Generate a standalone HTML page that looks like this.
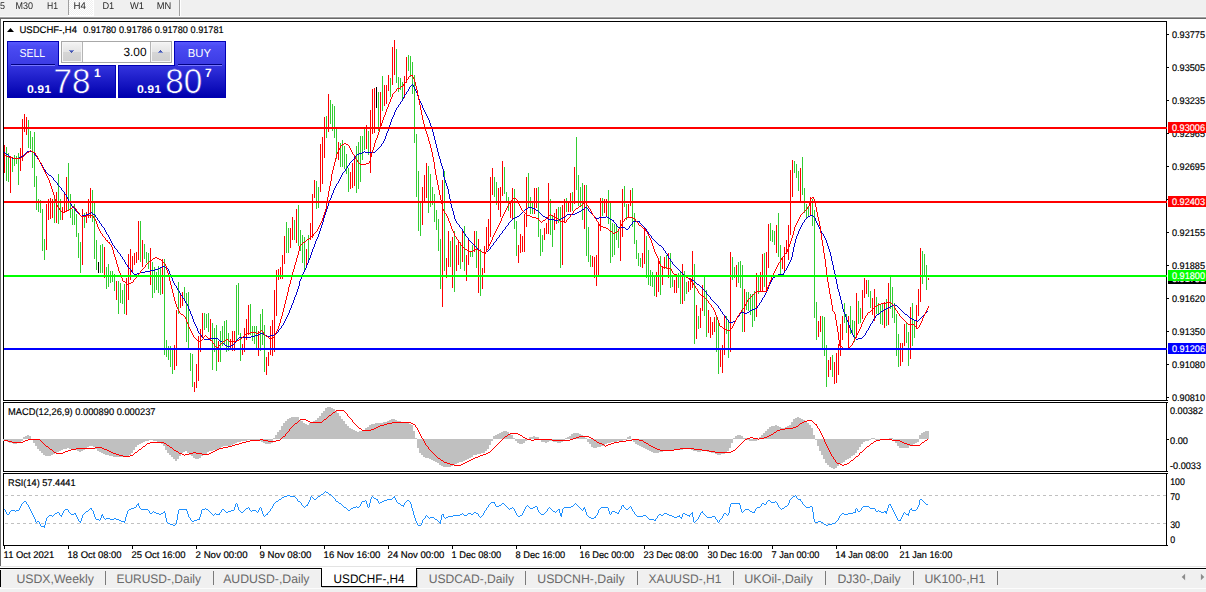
<!DOCTYPE html>
<html><head><meta charset="utf-8"><title>USDCHF-,H4</title>
<style>
html,body{margin:0;padding:0;background:#fff;width:1206px;height:592px;overflow:hidden}
svg{display:block;position:absolute;left:0;top:0}
text{font-family:"Liberation Sans",sans-serif;text-rendering:geometricPrecision}
.s{font-size:9.7px;fill:#000;stroke:#000;stroke-width:.18px}
.s.w{stroke:#fff}
.tb{font-size:9.7px;fill:#2a2a2a}
.tab{font-size:12.4px;fill:#6a6a6a}
.w{fill:#fff}
</style></head><body>
<svg width="1206" height="592" viewBox="0 0 1206 592">
<defs>
<linearGradient id="gb" x1="0" y1="41" x2="0" y2="98" gradientUnits="userSpaceOnUse">
<stop offset="0.0175" stop-color="#5858ff"/><stop offset="0.088" stop-color="#4b4bf3"/><stop offset="0.40" stop-color="#3c3ce5"/><stop offset="0.44" stop-color="#3333dd"/><stop offset="0.98" stop-color="#0000ae"/>
</linearGradient>
<linearGradient id="gg" x1="0" y1="0" x2="0" y2="1">
<stop offset="0" stop-color="#f4f4f4"/><stop offset="0.5" stop-color="#e4e4e4"/><stop offset="0.5" stop-color="#d6d6d6"/><stop offset="1" stop-color="#cfcfcf"/>
</linearGradient>
<filter id="nf" x="0" y="0" width="100%" height="100%" filterUnits="userSpaceOnUse"><feOffset dx="0" dy="0"/></filter>
<pattern id="dith" width="2" height="2" patternUnits="userSpaceOnUse"><rect width="2" height="2" fill="#f0f0f0"/><rect width="1" height="1" fill="#fff"/><rect x="1" y="1" width="1" height="1" fill="#fff"/></pattern>
</defs>
<rect width="1206" height="592" fill="#fff"/>

<rect x="0" y="0" width="1206" height="17" fill="#f0f0f0"/>
<rect x="69" y="0" width="24" height="15" fill="url(#dith)"/><rect x="93" y="0" width="1" height="16" fill="#fff"/><rect x="68" y="15" width="26" height="1" fill="#fff"/>
<rect x="68" y="0" width="1" height="15" fill="#a0a0a0"/>
<rect x="179" y="0" width="1" height="17" fill="#a0a0a0"/><rect x="180" y="0" width="1" height="17" fill="#fff"/>
<rect x="0" y="16" width="1206" height="1" fill="#f9f9f9"/><rect x="0" y="17" width="1206" height="1" fill="#a0a0a0"/><rect x="0" y="18" width="1206" height="1" fill="#696969"/>
<g filter="url(#nf)">
<text class="tb" x="0" y="9" textLength="5.0" lengthAdjust="spacingAndGlyphs">5</text>
<text class="tb" x="15.5" y="9" textLength="17.5" lengthAdjust="spacingAndGlyphs">M30</text>
<text class="tb" x="47" y="9" textLength="11.0" lengthAdjust="spacingAndGlyphs">H1</text>
<text class="tb" x="73.4" y="9" textLength="12.4" lengthAdjust="spacingAndGlyphs">H4</text>
<text class="tb" x="102.4" y="9" textLength="11.8" lengthAdjust="spacingAndGlyphs">D1</text>
<text class="tb" x="130" y="9" textLength="14.0" lengthAdjust="spacingAndGlyphs">W1</text>
<text class="tb" x="156.7" y="9" textLength="14.5" lengthAdjust="spacingAndGlyphs">MN</text>
</g>
<rect x="0" y="19" width="1" height="547" fill="#696969"/>
<rect x="0" y="566" width="1206" height="1" fill="#e3e3e3"/>
<rect x="0" y="569" width="1206" height="19" fill="#f0f0f0"/>
<rect x="0" y="588" width="1206" height="1" fill="#fcfcfc"/>
<rect x="0" y="589" width="1206" height="3" fill="#f0f0f0"/>
<rect x="0" y="568" width="1206" height="1" fill="#000"/>
<rect x="0" y="568" width="1" height="19" fill="#000"/>
<rect x="0" y="569" width="1206" height="1" fill="#f8f8f8"/>
<rect x="322" y="587" width="96" height="1" fill="#c8c8c8"/><rect x="417" y="570" width="1" height="18" fill="#c8c8c8"/>
<rect x="321" y="568" width="96" height="19" fill="#000"/><rect x="322" y="567" width="94" height="19" fill="#fff"/>
<text class="tab" x="16.4" y="583" textLength="77.6" lengthAdjust="spacingAndGlyphs">USDX,Weekly</text>
<text class="tab" x="116.4" y="583" textLength="84.6" lengthAdjust="spacingAndGlyphs">EURUSD-,Daily</text>
<text class="tab" x="223.2" y="583" textLength="86.3" lengthAdjust="spacingAndGlyphs">AUDUSD-,Daily</text>
<text class="tab" style="fill:#000" x="333.6" y="583" textLength="71.0" lengthAdjust="spacingAndGlyphs">USDCHF-,H4</text>
<text class="tab" x="428.7" y="583" textLength="85.3" lengthAdjust="spacingAndGlyphs">USDCAD-,Daily</text>
<text class="tab" x="537.3" y="583" textLength="87.3" lengthAdjust="spacingAndGlyphs">USDCNH-,Daily</text>
<text class="tab" x="648.6" y="583" textLength="72.8" lengthAdjust="spacingAndGlyphs">XAUUSD-,H1</text>
<text class="tab" x="744.3" y="583" textLength="68.4" lengthAdjust="spacingAndGlyphs">UKOil-,Daily</text>
<text class="tab" x="837.4" y="583" textLength="63.3" lengthAdjust="spacingAndGlyphs">DJ30-,Daily</text>
<text class="tab" x="924.4" y="583" textLength="60.9" lengthAdjust="spacingAndGlyphs">UK100-,H1</text>
<rect x="105" y="571" width="1" height="14" fill="#7a7a7a"/>
<rect x="213" y="571" width="1" height="14" fill="#7a7a7a"/>
<rect x="525" y="571" width="1" height="14" fill="#7a7a7a"/>
<rect x="637" y="571" width="1" height="14" fill="#7a7a7a"/>
<rect x="733" y="571" width="1" height="14" fill="#7a7a7a"/>
<rect x="825" y="571" width="1" height="14" fill="#7a7a7a"/>
<rect x="913" y="571" width="1" height="14" fill="#7a7a7a"/>
<rect x="997" y="571" width="1" height="14" fill="#7a7a7a"/>
<path d="M1181.7 577l3.4-3.2v6.4z" fill="#8c8c8c"/><path d="M1204.3 577l-3.4-3.2v6.4z" fill="#8c8c8c"/>
<g fill="#000" shape-rendering="crispEdges">
<rect x="3" y="21" width="1165" height="1"/><rect x="3" y="400" width="1165" height="1"/>
<rect x="3" y="21" width="1" height="380"/><rect x="1166" y="21" width="1" height="380"/>
<rect x="3" y="402" width="1165" height="1"/><rect x="3" y="471" width="1165" height="1"/>
<rect x="3" y="402" width="1" height="70"/><rect x="1166" y="402" width="1" height="70"/>
<rect x="3" y="473" width="1165" height="1"/><rect x="3" y="545" width="1165" height="1"/>
<rect x="3" y="473" width="1" height="73"/><rect x="1166" y="473" width="1" height="73"/>
<rect x="1167" y="21" width="1" height="1" fill="#fff"/>
<rect x="1167" y="34" width="2" height="1"/>
<rect x="1167" y="67" width="2" height="1"/>
<rect x="1167" y="100" width="2" height="1"/>
<rect x="1167" y="133" width="2" height="1"/>
<rect x="1167" y="166" width="2" height="1"/>
<rect x="1167" y="199" width="2" height="1"/>
<rect x="1167" y="232" width="2" height="1"/>
<rect x="1167" y="265" width="2" height="1"/>
<rect x="1167" y="298" width="2" height="1"/>
<rect x="1167" y="331" width="2" height="1"/>
<rect x="1167" y="364" width="2" height="1"/>
<rect x="1167" y="397" width="2" height="1"/>
<rect x="1167" y="439" width="2" height="1"/>
<rect x="4" y="546" width="1" height="3"/>
<rect x="68" y="546" width="1" height="3"/>
<rect x="132" y="546" width="1" height="3"/>
<rect x="196" y="546" width="1" height="3"/>
<rect x="260" y="546" width="1" height="3"/>
<rect x="324" y="546" width="1" height="3"/>
<rect x="388" y="546" width="1" height="3"/>
<rect x="452" y="546" width="1" height="3"/>
<rect x="516" y="546" width="1" height="3"/>
<rect x="580" y="546" width="1" height="3"/>
<rect x="644" y="546" width="1" height="3"/>
<rect x="708" y="546" width="1" height="3"/>
<rect x="772" y="546" width="1" height="3"/>
<rect x="836" y="546" width="1" height="3"/>
<rect x="900" y="546" width="1" height="3"/>
</g>
<text class="s" x="1172" y="38" textLength="33" lengthAdjust="spacingAndGlyphs">0.93775</text>
<text class="s" x="1172" y="71" textLength="33" lengthAdjust="spacingAndGlyphs">0.93505</text>
<text class="s" x="1172" y="104" textLength="33" lengthAdjust="spacingAndGlyphs">0.93235</text>
<text class="s" x="1172" y="137" textLength="33" lengthAdjust="spacingAndGlyphs">0.92965</text>
<text class="s" x="1172" y="170" textLength="33" lengthAdjust="spacingAndGlyphs">0.92695</text>
<text class="s" x="1172" y="203" textLength="33" lengthAdjust="spacingAndGlyphs">0.92425</text>
<text class="s" x="1172" y="236" textLength="33" lengthAdjust="spacingAndGlyphs">0.92155</text>
<text class="s" x="1172" y="269" textLength="33" lengthAdjust="spacingAndGlyphs">0.91885</text>
<text class="s" x="1172" y="302" textLength="33" lengthAdjust="spacingAndGlyphs">0.91620</text>
<text class="s" x="1172" y="335" textLength="33" lengthAdjust="spacingAndGlyphs">0.91350</text>
<text class="s" x="1172" y="368" textLength="33" lengthAdjust="spacingAndGlyphs">0.91080</text>
<text class="s" x="1172" y="401" textLength="33" lengthAdjust="spacingAndGlyphs">0.90810</text>
<text class="s" x="1170" y="413.6" textLength="33" lengthAdjust="spacingAndGlyphs">0.00382</text>
<text class="s" x="1170" y="443.6" textLength="18" lengthAdjust="spacingAndGlyphs">0.00</text>
<text class="s" x="1170" y="468.6" textLength="31" lengthAdjust="spacingAndGlyphs">-0.0033</text>
<text class="s" x="1170.2" y="484.6" textLength="14.6" lengthAdjust="spacingAndGlyphs">100</text>
<text class="s" x="1170.2" y="499.6" textLength="9.8" lengthAdjust="spacingAndGlyphs">70</text>
<text class="s" x="1170.2" y="527.6" textLength="9.8" lengthAdjust="spacingAndGlyphs">30</text>
<text class="s" x="1170.2" y="542.6" textLength="4.9" lengthAdjust="spacingAndGlyphs">0</text>
<text class="s" x="3.6" y="558.3" textLength="50.6" lengthAdjust="spacingAndGlyphs">11 Oct 2021</text>
<text class="s" x="67.6" y="558.3" textLength="54.0" lengthAdjust="spacingAndGlyphs">18 Oct 08:00</text>
<text class="s" x="131.6" y="558.3" textLength="54.0" lengthAdjust="spacingAndGlyphs">25 Oct 16:00</text>
<text class="s" x="195.6" y="558.3" textLength="52.0" lengthAdjust="spacingAndGlyphs">2 Nov 00:00</text>
<text class="s" x="259.6" y="558.3" textLength="51.8" lengthAdjust="spacingAndGlyphs">9 Nov 08:00</text>
<text class="s" x="323.6" y="558.3" textLength="56.8" lengthAdjust="spacingAndGlyphs">16 Nov 16:00</text>
<text class="s" x="387.6" y="558.3" textLength="56.8" lengthAdjust="spacingAndGlyphs">24 Nov 00:00</text>
<text class="s" x="451.6" y="558.3" textLength="49.6" lengthAdjust="spacingAndGlyphs">1 Dec 08:00</text>
<text class="s" x="515.6" y="558.3" textLength="49.6" lengthAdjust="spacingAndGlyphs">8 Dec 16:00</text>
<text class="s" x="579.6" y="558.3" textLength="54.6" lengthAdjust="spacingAndGlyphs">16 Dec 00:00</text>
<text class="s" x="643.6" y="558.3" textLength="54.6" lengthAdjust="spacingAndGlyphs">23 Dec 08:00</text>
<text class="s" x="707.6" y="558.3" textLength="54.6" lengthAdjust="spacingAndGlyphs">30 Dec 16:00</text>
<text class="s" x="771.6" y="558.3" textLength="47.8" lengthAdjust="spacingAndGlyphs">7 Jan 00:00</text>
<text class="s" x="835.6" y="558.3" textLength="52.6" lengthAdjust="spacingAndGlyphs">14 Jan 08:00</text>
<text class="s" x="899.6" y="558.3" textLength="52.6" lengthAdjust="spacingAndGlyphs">21 Jan 16:00</text>
<g shape-rendering="crispEdges" fill="none">
<path d="M5 495.5H1166M5 523.5H1166" stroke="#c0c0c0" stroke-width="1" stroke-dasharray="3 3" stroke-dashoffset="0"/>
<path d="M4.5 509V510M5.5 510V512M6.5 512V514M7.5 514V515M8.5 514V515M9.5 512V514M10.5 511V512M11.5 510V511M12.5 510V511M13.5 510V511M14.5 510V511M15.5 511V512M16.5 510V511M17.5 510V511M18.5 510V511M19.5 508V510M20.5 506V508M21.5 504V506M22.5 503V504M23.5 502V503M24.5 501V502M25.5 501V502M26.5 502V504M27.5 504V505M28.5 505V507M29.5 507V509M30.5 509V511M31.5 511V513M32.5 513V515M33.5 515V517M34.5 517V519M35.5 519V522M36.5 522V523M37.5 521V522M38.5 521V522M39.5 522V524M40.5 524V526M41.5 526V527M42.5 526V527M43.5 526V527M44.5 525V528M45.5 521V525M46.5 518V521M47.5 517V518M48.5 516V517M49.5 515V516M50.5 515V516M51.5 515V516M52.5 516V517M53.5 515V516M54.5 514V515M55.5 513V514M56.5 513V514M57.5 512V513M58.5 512V513M59.5 513V515M60.5 515V516M61.5 515V517M62.5 513V515M63.5 511V513M64.5 510V511M65.5 509V510M66.5 509V510M67.5 509V510M68.5 510V512M69.5 512V513M70.5 513V514M71.5 514V515M72.5 514V515M73.5 514V515M74.5 513V514M75.5 513V515M76.5 515V517M77.5 517V519M78.5 519V521M79.5 521V522M80.5 521V523M81.5 518V521M82.5 515V518M83.5 514V515M84.5 513V514M85.5 512V513M86.5 511V512M87.5 511V512M88.5 510V511M89.5 509V510M90.5 508V509M91.5 508V510M92.5 510V511M93.5 511V514M94.5 514V517M95.5 517V519M96.5 519V520M97.5 519V520M98.5 519V520M99.5 520V521M100.5 518V520M101.5 515V518M102.5 514V516M103.5 516V518M104.5 518V519M105.5 519V520M106.5 518V519M107.5 518V519M108.5 518V519M109.5 518V519M110.5 519V520M111.5 519V520M112.5 519V520M113.5 519V520M114.5 518V519M115.5 518V519M116.5 519V520M117.5 519V520M118.5 519V520M119.5 520V521M120.5 520V521M121.5 521V522M122.5 521V522M123.5 521V522M124.5 521V523M125.5 517V521M126.5 514V517M127.5 511V514M128.5 510V511M129.5 509V510M130.5 509V510M131.5 508V509M132.5 508V509M133.5 508V509M134.5 507V508M135.5 507V508M136.5 505V507M137.5 504V505M138.5 503V506M139.5 506V508M140.5 508V509M141.5 509V510M142.5 509V510M143.5 509V510M144.5 509V510M145.5 509V510M146.5 509V510M147.5 509V510M148.5 510V511M149.5 511V513M150.5 513V514M151.5 513V514M152.5 512V513M153.5 511V512M154.5 512V513M155.5 512V513M156.5 513V514M157.5 513V514M158.5 513V514M159.5 514V515M160.5 514V515M161.5 513V514M162.5 513V514M163.5 512V513M164.5 511V513M165.5 513V518M166.5 518V522M167.5 522V523M168.5 523V524M169.5 523V524M170.5 524V525M171.5 524V525M172.5 524V525M173.5 525V526M174.5 525V526M175.5 524V525M176.5 520V524M177.5 514V520M178.5 510V514M179.5 509V510M180.5 509V510M181.5 509V510M182.5 509V510M183.5 509V510M184.5 509V510M185.5 509V510M186.5 509V511M187.5 511V514M188.5 514V517M189.5 517V518M190.5 518V520M191.5 520V521M192.5 521V522M193.5 521V522M194.5 520V521M195.5 520V521M196.5 520V521M197.5 519V520M198.5 519V520M199.5 517V520M200.5 514V517M201.5 510V514M202.5 509V510M203.5 509V510M204.5 509V510M205.5 508V509M206.5 509V510M207.5 509V510M208.5 510V511M209.5 511V512M210.5 512V513M211.5 513V514M212.5 514V515M213.5 515V516M214.5 514V515M215.5 513V514M216.5 514V515M217.5 514V515M218.5 514V515M219.5 513V515M220.5 512V513M221.5 510V512M222.5 509V510M223.5 509V510M224.5 510V511M225.5 511V512M226.5 512V513M227.5 512V513M228.5 511V512M229.5 511V512M230.5 511V512M231.5 510V511M232.5 510V511M233.5 510V511M234.5 507V510M235.5 504V507M236.5 503V504M237.5 504V507M238.5 507V510M239.5 510V511M240.5 511V512M241.5 512V513M242.5 512V513M243.5 511V512M244.5 510V511M245.5 509V510M246.5 508V509M247.5 508V509M248.5 507V508M249.5 508V510M250.5 510V511M251.5 511V512M252.5 510V511M253.5 510V511M254.5 510V511M255.5 510V511M256.5 511V512M257.5 512V513M258.5 510V512M259.5 508V510M260.5 507V508M261.5 508V511M262.5 511V514M263.5 514V516M264.5 516V517M265.5 515V516M266.5 514V515M267.5 513V515M268.5 512V513M269.5 511V512M270.5 509V511M271.5 508V509M272.5 506V508M273.5 504V506M274.5 503V504M275.5 502V503M276.5 501V502M277.5 501V502M278.5 500V501M279.5 499V500M280.5 499V500M281.5 498V499M282.5 497V498M283.5 497V498M284.5 496V497M285.5 496V497M286.5 496V497M287.5 495V496M288.5 495V496M289.5 495V496M290.5 496V497M291.5 496V497M292.5 496V497M293.5 496V497M294.5 496V497M295.5 497V498M296.5 498V499M297.5 499V501M298.5 501V502M299.5 501V502M300.5 502V503M301.5 503V505M302.5 505V506M303.5 506V507M304.5 507V508M305.5 506V507M306.5 505V506M307.5 504V506M308.5 502V504M309.5 500V502M310.5 497V500M311.5 496V497M312.5 497V498M313.5 498V499M314.5 499V500M315.5 499V500M316.5 498V499M317.5 497V498M318.5 496V497M319.5 496V497M320.5 495V496M321.5 494V495M322.5 494V495M323.5 493V494M324.5 492V493M325.5 491V492M326.5 492V493M327.5 492V493M328.5 493V494M329.5 494V495M330.5 494V495M331.5 495V496M332.5 496V497M333.5 497V498M334.5 498V499M335.5 499V501M336.5 501V502M337.5 501V502M338.5 502V503M339.5 503V504M340.5 503V504M341.5 504V505M342.5 505V506M343.5 506V507M344.5 507V508M345.5 507V508M346.5 508V509M347.5 509V510M348.5 510V511M349.5 510V511M350.5 509V510M351.5 508V509M352.5 508V509M353.5 507V508M354.5 507V508M355.5 507V508M356.5 506V507M357.5 507V508M358.5 507V508M359.5 506V507M360.5 504V506M361.5 502V504M362.5 501V502M363.5 501V502M364.5 501V502M365.5 500V501M366.5 501V504M367.5 504V507M368.5 507V508M369.5 503V507M370.5 499V503M371.5 497V499M372.5 496V497M373.5 497V498M374.5 498V499M375.5 498V499M376.5 499V500M377.5 499V501M378.5 501V503M379.5 503V504M380.5 502V503M381.5 502V503M382.5 501V502M383.5 501V502M384.5 500V501M385.5 500V501M386.5 500V501M387.5 499V500M388.5 499V500M389.5 499V500M390.5 499V500M391.5 499V500M392.5 498V499M393.5 497V498M394.5 496V498M395.5 498V500M396.5 500V502M397.5 502V503M398.5 503V504M399.5 503V504M400.5 504V505M401.5 505V506M402.5 505V506M403.5 505V507M404.5 503V505M405.5 502V503M406.5 501V502M407.5 500V501M408.5 500V501M409.5 501V502M410.5 502V504M411.5 504V508M412.5 508V511M413.5 511V515M414.5 515V518M415.5 518V521M416.5 521V523M417.5 523V525M418.5 525V526M419.5 525V526M420.5 525V526M421.5 523V525M422.5 520V523M423.5 519V520M424.5 518V519M425.5 516V518M426.5 515V516M427.5 516V517M428.5 517V518M429.5 518V519M430.5 517V518M431.5 517V518M432.5 517V518M433.5 517V518M434.5 518V519M435.5 519V520M436.5 519V520M437.5 520V521M438.5 521V522M439.5 522V523M440.5 520V524M441.5 515V520M442.5 514V515M443.5 514V517M444.5 517V518M445.5 518V519M446.5 517V518M447.5 517V518M448.5 516V517M449.5 516V517M450.5 516V517M451.5 516V517M452.5 516V517M453.5 515V516M454.5 515V516M455.5 515V516M456.5 515V516M457.5 515V516M458.5 515V516M459.5 515V516M460.5 514V515M461.5 514V515M462.5 513V514M463.5 514V515M464.5 515V516M465.5 515V516M466.5 515V516M467.5 514V515M468.5 513V514M469.5 513V514M470.5 513V514M471.5 514V515M472.5 514V515M473.5 513V514M474.5 512V513M475.5 512V513M476.5 513V514M477.5 513V514M478.5 514V516M479.5 516V517M480.5 517V518M481.5 516V517M482.5 515V516M483.5 513V515M484.5 511V513M485.5 510V511M486.5 508V510M487.5 507V508M488.5 505V507M489.5 504V505M490.5 503V504M491.5 502V503M492.5 502V503M493.5 502V503M494.5 502V504M495.5 504V506M496.5 506V507M497.5 506V507M498.5 506V507M499.5 505V506M500.5 505V506M501.5 504V505M502.5 503V504M503.5 503V504M504.5 504V505M505.5 505V506M506.5 506V507M507.5 507V508M508.5 508V509M509.5 509V510M510.5 508V509M511.5 508V509M512.5 507V508M513.5 508V509M514.5 509V511M515.5 511V513M516.5 513V515M517.5 515V516M518.5 516V517M519.5 516V517M520.5 515V516M521.5 515V516M522.5 513V515M523.5 511V513M524.5 509V511M525.5 507V509M526.5 506V507M527.5 505V506M528.5 506V507M529.5 507V508M530.5 508V509M531.5 508V509M532.5 508V509M533.5 507V508M534.5 507V508M535.5 506V507M536.5 506V507M537.5 507V510M538.5 510V512M539.5 512V513M540.5 513V514M541.5 514V515M542.5 514V515M543.5 514V515M544.5 513V514M545.5 512V513M546.5 511V512M547.5 509V511M548.5 508V509M549.5 507V508M550.5 508V509M551.5 509V510M552.5 510V511M553.5 511V512M554.5 511V512M555.5 512V513M556.5 511V512M557.5 510V511M558.5 509V510M559.5 509V513M560.5 513V516M561.5 513V517M562.5 509V513M563.5 508V509M564.5 507V508M565.5 507V508M566.5 507V508M567.5 507V508M568.5 507V508M569.5 507V508M570.5 507V508M571.5 506V507M572.5 506V507M573.5 505V506M574.5 504V505M575.5 503V504M576.5 504V505M577.5 505V506M578.5 506V507M579.5 507V508M580.5 508V509M581.5 509V510M582.5 510V511M583.5 508V510M584.5 507V509M585.5 509V512M586.5 512V515M587.5 515V516M588.5 516V517M589.5 517V518M590.5 517V518M591.5 518V519M592.5 518V519M593.5 518V519M594.5 517V518M595.5 516V518M596.5 515V516M597.5 513V515M598.5 510V513M599.5 509V510M600.5 508V509M601.5 507V508M602.5 507V508M603.5 507V508M604.5 507V508M605.5 507V508M606.5 507V508M607.5 507V508M608.5 508V511M609.5 511V514M610.5 514V515M611.5 512V514M612.5 511V512M613.5 511V512M614.5 511V512M615.5 512V513M616.5 512V513M617.5 513V514M618.5 512V514M619.5 510V512M620.5 509V510M621.5 506V509M622.5 505V506M623.5 505V507M624.5 507V508M625.5 508V509M626.5 509V510M627.5 509V510M628.5 508V509M629.5 507V508M630.5 506V507M631.5 507V509M632.5 509V511M633.5 511V512M634.5 512V514M635.5 514V515M636.5 515V516M637.5 516V517M638.5 516V517M639.5 516V517M640.5 516V517M641.5 516V517M642.5 516V517M643.5 515V516M644.5 515V516M645.5 515V516M646.5 516V517M647.5 517V518M648.5 518V519M649.5 519V520M650.5 519V520M651.5 519V520M652.5 519V520M653.5 519V520M654.5 520V521M655.5 519V521M656.5 518V519M657.5 516V518M658.5 515V516M659.5 514V515M660.5 514V515M661.5 515V516M662.5 515V516M663.5 514V515M664.5 513V514M665.5 513V514M666.5 513V514M667.5 514V515M668.5 514V515M669.5 515V516M670.5 515V516M671.5 515V516M672.5 516V517M673.5 516V517M674.5 517V518M675.5 517V518M676.5 517V518M677.5 516V517M678.5 516V517M679.5 515V517M680.5 517V518M681.5 517V519M682.5 514V517M683.5 513V514M684.5 513V514M685.5 514V515M686.5 514V515M687.5 515V516M688.5 515V516M689.5 515V517M690.5 514V515M691.5 513V514M692.5 512V517M693.5 517V522M694.5 522V523M695.5 521V522M696.5 520V521M697.5 519V520M698.5 517V519M699.5 515V517M700.5 513V515M701.5 512V513M702.5 511V513M703.5 513V514M704.5 514V515M705.5 515V516M706.5 516V517M707.5 517V518M708.5 517V518M709.5 517V518M710.5 517V518M711.5 517V518M712.5 516V517M713.5 516V517M714.5 516V517M715.5 517V519M716.5 519V520M717.5 520V522M718.5 522V523M719.5 520V522M720.5 519V520M721.5 518V519M722.5 516V518M723.5 514V516M724.5 513V514M725.5 513V514M726.5 514V515M727.5 515V516M728.5 513V515M729.5 507V513M730.5 504V507M731.5 503V504M732.5 503V504M733.5 503V504M734.5 503V504M735.5 503V504M736.5 503V504M737.5 503V504M738.5 503V504M739.5 503V505M740.5 505V509M741.5 509V512M742.5 512V513M743.5 511V512M744.5 510V511M745.5 509V510M746.5 509V510M747.5 509V510M748.5 509V510M749.5 510V511M750.5 511V512M751.5 511V512M752.5 512V513M753.5 512V513M754.5 511V513M755.5 509V511M756.5 508V509M757.5 507V508M758.5 507V508M759.5 507V508M760.5 506V507M761.5 504V506M762.5 503V504M763.5 503V504M764.5 504V505M765.5 504V505M766.5 502V504M767.5 501V502M768.5 500V501M769.5 500V501M770.5 501V502M771.5 502V503M772.5 502V503M773.5 502V503M774.5 502V503M775.5 501V502M776.5 502V503M777.5 503V505M778.5 505V507M779.5 507V508M780.5 508V509M781.5 509V510M782.5 508V509M783.5 508V509M784.5 507V508M785.5 506V507M786.5 506V507M787.5 505V506M788.5 503V505M789.5 500V503M790.5 499V500M791.5 498V499M792.5 497V498M793.5 496V497M794.5 496V497M795.5 495V496M796.5 496V498M797.5 498V499M798.5 499V500M799.5 499V500M800.5 499V501M801.5 501V502M802.5 502V504M803.5 504V505M804.5 505V506M805.5 506V507M806.5 507V508M807.5 507V508M808.5 507V508M809.5 507V508M810.5 506V507M811.5 506V507M812.5 507V512M813.5 512V519M814.5 519V522M815.5 522V523M816.5 522V523M817.5 522V523M818.5 521V522M819.5 521V522M820.5 521V522M821.5 522V523M822.5 522V523M823.5 523V524M824.5 524V525M825.5 524V525M826.5 525V526M827.5 525V526M828.5 524V525M829.5 524V525M830.5 524V525M831.5 524V525M832.5 523V524M833.5 523V524M834.5 523V524M835.5 522V523M836.5 521V522M837.5 520V521M838.5 518V520M839.5 516V518M840.5 515V516M841.5 514V515M842.5 513V514M843.5 513V514M844.5 514V515M845.5 514V515M846.5 514V515M847.5 514V515M848.5 513V514M849.5 513V514M850.5 513V514M851.5 513V514M852.5 513V514M853.5 512V513M854.5 512V513M855.5 509V513M856.5 508V509M857.5 509V511M858.5 511V512M859.5 511V512M860.5 510V511M861.5 508V510M862.5 507V508M863.5 506V507M864.5 506V507M865.5 506V507M866.5 506V507M867.5 506V507M868.5 506V507M869.5 507V508M870.5 508V509M871.5 508V509M872.5 508V509M873.5 508V509M874.5 508V509M875.5 509V511M876.5 511V512M877.5 511V512M878.5 510V511M879.5 511V512M880.5 511V512M881.5 512V513M882.5 512V513M883.5 512V513M884.5 511V512M885.5 511V513M886.5 511V514M887.5 508V511M888.5 505V508M889.5 504V505M890.5 504V506M891.5 506V508M892.5 508V510M893.5 510V512M894.5 512V514M895.5 514V516M896.5 516V518M897.5 518V520M898.5 520V521M899.5 520V521M900.5 519V521M901.5 517V519M902.5 515V517M903.5 513V515M904.5 512V513M905.5 513V514M906.5 514V515M907.5 514V515M908.5 513V516M909.5 510V513M910.5 509V510M911.5 508V510M912.5 510V511M913.5 510V511M914.5 510V511M915.5 510V511M916.5 509V510M917.5 507V509M918.5 505V507M919.5 500V505M920.5 499V500M921.5 499V500M922.5 500V501M923.5 501V502M924.5 502V503M925.5 503V504M926.5 504V505M927.5 504V505" stroke="#1e90ff" stroke-width="1"/>
<path d="M3 439h2V441h-2zM5 439h2V441h-2zM7 439h2V442h-2zM9 439h2V443h-2zM11 439h2V443h-2zM13 439h2V444h-2zM15 439h2V444h-2zM17 439h2V443h-2zM19 439h2V443h-2zM21 439h2V441h-2zM23 437h2V439h-2zM25 436h2V439h-2zM27 435h2V439h-2zM29 436h2V439h-2zM31 439h2V440h-2zM33 439h2V443h-2zM35 439h2V446h-2zM37 439h2V449h-2zM39 439h2V451h-2zM41 439h2V453h-2zM43 439h2V455h-2zM45 439h2V456h-2zM47 439h2V456h-2zM49 439h2V456h-2zM51 439h2V455h-2zM53 439h2V454h-2zM55 439h2V453h-2zM57 439h2V452h-2zM59 439h2V451h-2zM61 439h2V450h-2zM63 439h2V449h-2zM65 439h2V449h-2zM67 439h2V448h-2zM69 439h2V449h-2zM71 439h2V449h-2zM73 439h2V450h-2zM75 439h2V450h-2zM77 439h2V451h-2zM79 439h2V452h-2zM81 439h2V451h-2zM83 439h2V450h-2zM85 439h2V449h-2zM87 439h2V447h-2zM89 439h2V446h-2zM91 439h2V446h-2zM93 439h2V447h-2zM95 439h2V449h-2zM97 439h2V451h-2zM99 439h2V452h-2zM101 439h2V453h-2zM103 439h2V454h-2zM105 439h2V455h-2zM107 439h2V455h-2zM109 439h2V456h-2zM111 439h2V456h-2zM113 439h2V457h-2zM115 439h2V457h-2zM117 439h2V457h-2zM119 439h2V457h-2zM121 439h2V457h-2zM123 439h2V457h-2zM125 439h2V456h-2zM127 439h2V456h-2zM129 439h2V455h-2zM131 439h2V453h-2zM133 439h2V450h-2zM135 439h2V447h-2zM137 439h2V445h-2zM139 439h2V444h-2zM141 439h2V443h-2zM143 439h2V442h-2zM145 439h2V441h-2zM147 439h2V441h-2zM149 439h2V440h-2zM151 439h2V440h-2zM153 439h2V441h-2zM155 439h2V441h-2zM157 439h2V442h-2zM159 439h2V443h-2zM161 439h2V444h-2zM163 439h2V446h-2zM165 439h2V450h-2zM167 439h2V453h-2zM169 439h2V455h-2zM171 439h2V457h-2zM173 439h2V459h-2zM175 439h2V461h-2zM177 439h2V459h-2zM179 439h2V456h-2zM181 439h2V453h-2zM183 439h2V452h-2zM185 439h2V451h-2zM187 439h2V453h-2zM189 439h2V455h-2zM191 439h2V456h-2zM193 439h2V458h-2zM195 439h2V459h-2zM197 439h2V459h-2zM199 439h2V458h-2zM201 439h2V456h-2zM203 439h2V455h-2zM205 439h2V454h-2zM207 439h2V452h-2zM209 439h2V451h-2zM211 439h2V451h-2zM213 439h2V450h-2zM215 439h2V450h-2zM217 439h2V449h-2zM219 439h2V448h-2zM221 439h2V447h-2zM223 439h2V446h-2zM225 439h2V446h-2zM227 439h2V446h-2zM229 439h2V446h-2zM231 439h2V445h-2zM233 439h2V444h-2zM235 439h2V443h-2zM237 439h2V442h-2zM239 439h2V442h-2zM241 439h2V441h-2zM243 439h2V441h-2zM245 439h2V441h-2zM247 439h2V440h-2zM249 439h2V440h-2zM251 439h2V440h-2zM253 439h2V440h-2zM255 439h2V440h-2zM257 439h2V440h-2zM259 439h2V441h-2zM261 439h2V442h-2zM263 439h2V443h-2zM265 439h2V444h-2zM267 439h2V444h-2zM269 439h2V444h-2zM271 439h2V443h-2zM273 438h2V439h-2zM275 435h2V439h-2zM277 432h2V439h-2zM279 430h2V439h-2zM281 426h2V439h-2zM283 423h2V439h-2zM285 421h2V439h-2zM287 419h2V439h-2zM289 418h2V439h-2zM291 417h2V439h-2zM293 417h2V439h-2zM295 417h2V439h-2zM297 417h2V439h-2zM299 420h2V439h-2zM301 421h2V439h-2zM303 423h2V439h-2zM305 424h2V439h-2zM307 425h2V439h-2zM309 423h2V439h-2zM311 422h2V439h-2zM313 421h2V439h-2zM315 420h2V439h-2zM317 418h2V439h-2zM319 416h2V439h-2zM321 413h2V439h-2zM323 411h2V439h-2zM325 408h2V439h-2zM327 407h2V439h-2zM329 407h2V439h-2zM331 408h2V439h-2zM333 409h2V439h-2zM335 411h2V439h-2zM337 413h2V439h-2zM339 416h2V439h-2zM341 419h2V439h-2zM343 421h2V439h-2zM345 424h2V439h-2zM347 426h2V439h-2zM349 428h2V439h-2zM351 429h2V439h-2zM353 430h2V439h-2zM355 431h2V439h-2zM357 432h2V439h-2zM359 431h2V439h-2zM361 431h2V439h-2zM363 430h2V439h-2zM365 428h2V439h-2zM367 427h2V439h-2zM369 425h2V439h-2zM371 424h2V439h-2zM373 424h2V439h-2zM375 423h2V439h-2zM377 423h2V439h-2zM379 423h2V439h-2zM381 423h2V439h-2zM383 422h2V439h-2zM385 422h2V439h-2zM387 421h2V439h-2zM389 420h2V439h-2zM391 419h2V439h-2zM393 419h2V439h-2zM395 420h2V439h-2zM397 421h2V439h-2zM399 421h2V439h-2zM401 422h2V439h-2zM403 422h2V439h-2zM405 423h2V439h-2zM407 423h2V439h-2zM409 424h2V439h-2zM411 425h2V439h-2zM413 431h2V439h-2zM415 438h2V439h-2zM417 439h2V448h-2zM419 439h2V453h-2zM421 439h2V455h-2zM423 439h2V457h-2zM425 439h2V458h-2zM427 439h2V458h-2zM429 439h2V459h-2zM431 439h2V460h-2zM433 439h2V461h-2zM435 439h2V462h-2zM437 439h2V463h-2zM439 439h2V465h-2zM441 439h2V466h-2zM443 439h2V467h-2zM445 439h2V467h-2zM447 439h2V467h-2zM449 439h2V467h-2zM451 439h2V466h-2zM453 439h2V465h-2zM455 439h2V464h-2zM457 439h2V463h-2zM459 439h2V462h-2zM461 439h2V462h-2zM463 439h2V461h-2zM465 439h2V460h-2zM467 439h2V459h-2zM469 439h2V458h-2zM471 439h2V457h-2zM473 439h2V455h-2zM475 439h2V455h-2zM477 439h2V454h-2zM479 439h2V454h-2zM481 439h2V453h-2zM483 439h2V453h-2zM485 439h2V451h-2zM487 439h2V449h-2zM489 439h2V445h-2zM491 439h2V441h-2zM493 436h2V439h-2zM495 435h2V439h-2zM497 434h2V439h-2zM499 433h2V439h-2zM501 432h2V439h-2zM503 431h2V439h-2zM505 431h2V439h-2zM507 432h2V439h-2zM509 434h2V439h-2zM511 435h2V439h-2zM513 438h2V439h-2zM515 439h2V441h-2zM517 439h2V443h-2zM519 439h2V444h-2zM521 439h2V444h-2zM523 439h2V443h-2zM525 439h2V441h-2zM527 439h2V440h-2zM529 437h2V439h-2zM531 437h2V439h-2zM533 436h2V439h-2zM535 437h2V439h-2zM537 437h2V439h-2zM539 439h2V440h-2zM541 439h2V442h-2zM543 439h2V442h-2zM545 439h2V443h-2zM547 439h2V442h-2zM549 439h2V441h-2zM551 439h2V441h-2zM553 439h2V442h-2zM555 439h2V442h-2zM557 439h2V443h-2zM559 439h2V443h-2zM561 439h2V442h-2zM563 439h2V441h-2zM565 438h2V439h-2zM567 437h2V439h-2zM569 436h2V439h-2zM571 434h2V439h-2zM573 433h2V439h-2zM575 433h2V439h-2zM577 433h2V439h-2zM579 434h2V439h-2zM581 435h2V439h-2zM583 436h2V439h-2zM585 438h2V439h-2zM587 439h2V442h-2zM589 439h2V444h-2zM591 439h2V447h-2zM593 439h2V448h-2zM595 439h2V448h-2zM597 439h2V447h-2zM599 439h2V447h-2zM601 439h2V446h-2zM603 439h2V446h-2zM605 439h2V444h-2zM607 439h2V443h-2zM609 439h2V443h-2zM611 439h2V442h-2zM613 439h2V442h-2zM615 439h2V442h-2zM617 439h2V441h-2zM619 439h2V441h-2zM621 439h2V441h-2zM623 439h2V440h-2zM625 439h2V440h-2zM627 437h2V439h-2zM629 436h2V439h-2zM631 439h2V440h-2zM633 439h2V442h-2zM635 439h2V444h-2zM637 439h2V445h-2zM639 439h2V446h-2zM641 439h2V447h-2zM643 439h2V448h-2zM645 439h2V449h-2zM647 439h2V450h-2zM649 439h2V451h-2zM651 439h2V452h-2zM653 439h2V453h-2zM655 439h2V453h-2zM657 439h2V453h-2zM659 439h2V452h-2zM661 439h2V452h-2zM663 439h2V451h-2zM665 439h2V451h-2zM667 439h2V450h-2zM669 439h2V450h-2zM671 439h2V450h-2zM673 439h2V450h-2zM675 439h2V450h-2zM677 439h2V450h-2zM679 439h2V450h-2zM681 439h2V450h-2zM683 439h2V449h-2zM685 439h2V449h-2zM687 439h2V449h-2zM689 439h2V449h-2zM691 439h2V450h-2zM693 439h2V451h-2zM695 439h2V451h-2zM697 439h2V452h-2zM699 439h2V452h-2zM701 439h2V451h-2zM703 439h2V451h-2zM705 439h2V451h-2zM707 439h2V452h-2zM709 439h2V452h-2zM711 439h2V453h-2zM713 439h2V453h-2zM715 439h2V454h-2zM717 439h2V455h-2zM719 439h2V455h-2zM721 439h2V454h-2zM723 439h2V454h-2zM725 439h2V452h-2zM727 439h2V451h-2zM729 439h2V448h-2zM731 439h2V443h-2zM733 438h2V439h-2zM735 436h2V439h-2zM737 435h2V439h-2zM739 435h2V439h-2zM741 436h2V439h-2zM743 438h2V439h-2zM745 438h2V439h-2zM747 439h2V440h-2zM749 439h2V441h-2zM751 439h2V441h-2zM753 439h2V441h-2zM755 439h2V441h-2zM757 439h2V440h-2zM759 437h2V439h-2zM761 435h2V439h-2zM763 433h2V439h-2zM765 431h2V439h-2zM767 429h2V439h-2zM769 427h2V439h-2zM771 426h2V439h-2zM773 426h2V439h-2zM775 425h2V439h-2zM777 426h2V439h-2zM779 427h2V439h-2zM781 428h2V439h-2zM783 428h2V439h-2zM785 427h2V439h-2zM787 426h2V439h-2zM789 425h2V439h-2zM791 422h2V439h-2zM793 419h2V439h-2zM795 418h2V439h-2zM797 417h2V439h-2zM799 418h2V439h-2zM801 419h2V439h-2zM803 420h2V439h-2zM805 422h2V439h-2zM807 423h2V439h-2zM809 425h2V439h-2zM811 428h2V439h-2zM813 435h2V439h-2zM815 439h2V440h-2zM817 439h2V446h-2zM819 439h2V451h-2zM821 439h2V455h-2zM823 439h2V459h-2zM825 439h2V463h-2zM827 439h2V465h-2zM829 439h2V467h-2zM831 439h2V468h-2zM833 439h2V469h-2zM835 439h2V468h-2zM837 439h2V466h-2zM839 439h2V464h-2zM841 439h2V463h-2zM843 439h2V462h-2zM845 439h2V460h-2zM847 439h2V459h-2zM849 439h2V458h-2zM851 439h2V456h-2zM853 439h2V455h-2zM855 439h2V453h-2zM857 439h2V450h-2zM859 439h2V447h-2zM861 439h2V444h-2zM863 439h2V442h-2zM865 439h2V441h-2zM867 439h2V441h-2zM869 439h2V440h-2zM871 438h2V439h-2zM873 438h2V439h-2zM875 439h2V440h-2zM877 439h2V440h-2zM879 439h2V440h-2zM881 439h2V440h-2zM883 439h2V440h-2zM885 439h2V440h-2zM887 439h2V440h-2zM889 438h2V439h-2zM891 438h2V439h-2zM893 439h2V441h-2zM895 439h2V443h-2zM897 439h2V446h-2zM899 439h2V448h-2zM901 439h2V448h-2zM903 439h2V448h-2zM905 439h2V448h-2zM907 439h2V448h-2zM909 439h2V446h-2zM911 439h2V445h-2zM913 439h2V444h-2zM915 439h2V443h-2zM917 439h2V442h-2zM919 435h2V439h-2zM921 433h2V439h-2zM923 432h2V439h-2zM925 431h2V439h-2zM927 431h2V439h-2z" fill="#c0c0c0" stroke="none"/>
<path d="M4.5 440V441M5.5 440V441M6.5 440V441M7.5 440V441M8.5 441V442M9.5 441V442M10.5 441V442M11.5 441V442M12.5 442V443M13.5 442V443M14.5 442V443M15.5 442V443M16.5 442V443M17.5 442V443M18.5 442V443M19.5 442V443M20.5 442V443M21.5 442V443M22.5 442V443M23.5 441V442M24.5 441V442M25.5 440V441M26.5 440V441M27.5 440V441M28.5 439V440M29.5 439V440M30.5 439V440M31.5 439V440M32.5 439V440M33.5 439V440M34.5 439V440M35.5 439V440M36.5 439V440M37.5 439V440M38.5 439V440M39.5 439V440M40.5 440V441M41.5 441V442M42.5 442V443M43.5 443V444M44.5 444V445M45.5 445V446M46.5 446V447M47.5 446V447M48.5 447V448M49.5 448V449M50.5 449V450M51.5 449V450M52.5 450V451M53.5 451V452M54.5 452V453M55.5 452V453M56.5 453V454M57.5 453V454M58.5 453V454M59.5 453V454M60.5 453V454M61.5 453V454M62.5 453V454M63.5 452V453M64.5 452V453M65.5 451V452M66.5 451V452M67.5 451V452M68.5 450V451M69.5 450V451M70.5 450V451M71.5 449V450M72.5 449V450M73.5 449V450M74.5 449V450M75.5 449V450M76.5 448V449M77.5 448V449M78.5 448V449M79.5 448V449M80.5 448V449M81.5 448V449M82.5 448V449M83.5 448V449M84.5 448V449M85.5 448V449M86.5 448V449M87.5 448V449M88.5 448V449M89.5 448V449M90.5 448V449M91.5 448V449M92.5 448V449M93.5 448V449M94.5 448V449M95.5 447V448M96.5 447V448M97.5 447V448M98.5 447V448M99.5 447V448M100.5 447V448M101.5 447V448M102.5 448V449M103.5 448V449M104.5 449V450M105.5 449V450M106.5 449V450M107.5 450V451M108.5 450V451M109.5 451V452M110.5 451V452M111.5 452V453M112.5 452V453M113.5 453V454M114.5 453V454M115.5 453V454M116.5 454V455M117.5 454V455M118.5 454V455M119.5 455V456M120.5 455V456M121.5 455V456M122.5 455V456M123.5 456V457M124.5 456V457M125.5 456V457M126.5 456V457M127.5 456V457M128.5 456V457M129.5 456V457M130.5 455V456M131.5 455V456M132.5 455V456M133.5 454V455M134.5 453V454M135.5 452V453M136.5 452V453M137.5 451V452M138.5 450V451M139.5 449V450M140.5 449V450M141.5 448V449M142.5 447V448M143.5 446V447M144.5 446V447M145.5 445V446M146.5 444V445M147.5 443V444M148.5 443V444M149.5 443V444M150.5 442V443M151.5 442V443M152.5 442V443M153.5 442V443M154.5 442V443M155.5 442V443M156.5 442V443M157.5 442V443M158.5 442V443M159.5 442V443M160.5 442V443M161.5 442V443M162.5 442V443M163.5 442V443M164.5 443V444M165.5 443V444M166.5 444V445M167.5 445V446M168.5 445V446M169.5 446V447M170.5 447V448M171.5 447V448M172.5 448V449M173.5 449V450M174.5 450V451M175.5 450V451M176.5 451V452M177.5 451V452M178.5 452V453M179.5 453V454M180.5 453V454M181.5 453V454M182.5 454V455M183.5 454V455M184.5 455V456M185.5 454V455M186.5 454V455M187.5 454V455M188.5 454V455M189.5 453V454M190.5 453V454M191.5 453V454M192.5 453V454M193.5 452V453M194.5 452V453M195.5 452V453M196.5 453V454M197.5 453V454M198.5 453V454M199.5 453V454M200.5 453V454M201.5 453V454M202.5 454V455M203.5 454V455M204.5 454V455M205.5 454V455M206.5 454V455M207.5 454V455M208.5 454V455M209.5 453V454M210.5 453V454M211.5 452V453M212.5 452V453M213.5 451V452M214.5 451V452M215.5 450V451M216.5 450V451M217.5 449V450M218.5 449V450M219.5 448V449M220.5 448V449M221.5 448V449M222.5 448V449M223.5 447V448M224.5 447V448M225.5 447V448M226.5 447V448M227.5 447V448M228.5 446V447M229.5 446V447M230.5 446V447M231.5 446V447M232.5 445V446M233.5 445V446M234.5 445V446M235.5 444V445M236.5 444V445M237.5 444V445M238.5 444V445M239.5 443V444M240.5 443V444M241.5 443V444M242.5 442V443M243.5 442V443M244.5 442V443M245.5 442V443M246.5 441V442M247.5 441V442M248.5 441V442M249.5 441V442M250.5 440V441M251.5 440V441M252.5 440V441M253.5 440V441M254.5 440V441M255.5 440V441M256.5 440V441M257.5 440V441M258.5 440V441M259.5 440V441M260.5 439V440M261.5 439V440M262.5 439V440M263.5 440V441M264.5 440V441M265.5 440V441M266.5 440V441M267.5 440V441M268.5 441V442M269.5 441V442M270.5 441V442M271.5 441V442M272.5 441V442M273.5 441V442M274.5 441V442M275.5 441V442M276.5 440V441M277.5 440V441M278.5 440V441M279.5 440V441M280.5 439V440M281.5 438V439M282.5 437V438M283.5 436V437M284.5 436V437M285.5 434V436M286.5 433V434M287.5 432V433M288.5 431V432M289.5 429V431M290.5 428V429M291.5 427V428M292.5 426V427M293.5 425V426M294.5 424V425M295.5 423V424M296.5 423V424M297.5 422V423M298.5 421V422M299.5 420V421M300.5 419V420M301.5 419V420M302.5 419V420M303.5 419V420M304.5 419V420M305.5 419V420M306.5 420V421M307.5 420V421M308.5 421V422M309.5 421V422M310.5 422V423M311.5 422V423M312.5 422V423M313.5 422V423M314.5 422V423M315.5 422V423M316.5 422V423M317.5 422V423M318.5 422V423M319.5 422V423M320.5 422V423M321.5 422V423M322.5 421V422M323.5 420V421M324.5 419V420M325.5 419V420M326.5 418V419M327.5 417V418M328.5 416V417M329.5 415V416M330.5 415V416M331.5 414V415M332.5 413V414M333.5 412V413M334.5 412V413M335.5 411V412M336.5 410V411M337.5 410V411M338.5 410V411M339.5 410V411M340.5 410V411M341.5 410V411M342.5 410V411M343.5 410V411M344.5 411V412M345.5 412V413M346.5 413V414M347.5 414V416M348.5 416V417M349.5 417V418M350.5 418V419M351.5 419V420M352.5 420V422M353.5 422V423M354.5 423V424M355.5 424V425M356.5 425V426M357.5 426V427M358.5 427V428M359.5 428V429M360.5 428V429M361.5 429V430M362.5 430V431M363.5 430V431M364.5 430V431M365.5 430V431M366.5 430V431M367.5 430V431M368.5 430V431M369.5 430V431M370.5 430V431M371.5 429V430M372.5 429V430M373.5 429V430M374.5 428V429M375.5 428V429M376.5 427V428M377.5 427V428M378.5 426V427M379.5 426V427M380.5 425V426M381.5 425V426M382.5 425V426M383.5 425V426M384.5 424V425M385.5 424V425M386.5 424V425M387.5 423V424M388.5 423V424M389.5 423V424M390.5 423V424M391.5 423V424M392.5 422V423M393.5 422V423M394.5 422V423M395.5 422V423M396.5 422V423M397.5 422V423M398.5 422V423M399.5 422V423M400.5 422V423M401.5 422V423M402.5 422V423M403.5 422V423M404.5 422V423M405.5 422V423M406.5 422V423M407.5 422V423M408.5 422V423M409.5 422V423M410.5 422V423M411.5 423V424M412.5 423V424M413.5 424V425M414.5 424V425M415.5 425V427M416.5 427V428M417.5 428V430M418.5 430V432M419.5 432V434M420.5 434V436M421.5 436V438M422.5 438V439M423.5 439V441M424.5 441V443M425.5 443V445M426.5 445V446M427.5 446V447M428.5 447V449M429.5 449V450M430.5 450V451M431.5 451V452M432.5 452V453M433.5 453V454M434.5 454V455M435.5 455V456M436.5 456V457M437.5 457V458M438.5 458V459M439.5 458V459M440.5 459V460M441.5 460V461M442.5 460V461M443.5 461V462M444.5 462V463M445.5 462V463M446.5 462V463M447.5 463V464M448.5 463V464M449.5 463V464M450.5 464V465M451.5 464V465M452.5 464V465M453.5 464V465M454.5 465V466M455.5 465V466M456.5 465V466M457.5 465V466M458.5 465V466M459.5 465V466M460.5 465V466M461.5 464V465M462.5 464V465M463.5 463V464M464.5 463V464M465.5 462V463M466.5 462V463M467.5 461V462M468.5 461V462M469.5 460V461M470.5 460V461M471.5 459V460M472.5 459V460M473.5 458V459M474.5 458V459M475.5 457V458M476.5 457V458M477.5 457V458M478.5 456V457M479.5 456V457M480.5 455V456M481.5 455V456M482.5 455V456M483.5 454V455M484.5 454V455M485.5 454V455M486.5 453V454M487.5 453V454M488.5 452V453M489.5 452V453M490.5 451V452M491.5 450V451M492.5 449V450M493.5 448V449M494.5 447V448M495.5 446V447M496.5 445V446M497.5 444V445M498.5 443V444M499.5 442V443M500.5 441V442M501.5 440V441M502.5 439V440M503.5 438V439M504.5 437V438M505.5 436V437M506.5 436V437M507.5 435V436M508.5 434V435M509.5 434V435M510.5 433V434M511.5 433V434M512.5 433V434M513.5 433V434M514.5 433V434M515.5 433V434M516.5 433V434M517.5 433V434M518.5 434V435M519.5 434V435M520.5 435V436M521.5 435V436M522.5 436V437M523.5 437V438M524.5 437V438M525.5 438V439M526.5 438V439M527.5 439V440M528.5 439V440M529.5 439V440M530.5 439V440M531.5 440V441M532.5 440V441M533.5 440V441M534.5 439V440M535.5 439V440M536.5 439V440M537.5 439V440M538.5 439V440M539.5 439V440M540.5 439V440M541.5 439V440M542.5 439V440M543.5 439V440M544.5 439V440M545.5 439V440M546.5 439V440M547.5 439V440M548.5 439V440M549.5 439V440M550.5 439V440M551.5 439V440M552.5 440V441M553.5 440V441M554.5 440V441M555.5 440V441M556.5 440V441M557.5 440V441M558.5 440V441M559.5 440V441M560.5 440V441M561.5 440V441M562.5 440V441M563.5 440V441M564.5 440V441M565.5 440V441M566.5 440V441M567.5 440V441M568.5 440V441M569.5 440V441M570.5 439V440M571.5 439V440M572.5 439V440M573.5 438V439M574.5 438V439M575.5 438V439M576.5 437V438M577.5 437V438M578.5 437V438M579.5 436V437M580.5 436V437M581.5 436V437M582.5 436V437M583.5 436V437M584.5 436V437M585.5 436V437M586.5 436V437M587.5 436V437M588.5 436V437M589.5 437V438M590.5 437V438M591.5 438V439M592.5 438V439M593.5 439V440M594.5 440V441M595.5 440V441M596.5 441V442M597.5 442V443M598.5 442V443M599.5 443V444M600.5 443V444M601.5 443V444M602.5 444V445M603.5 444V445M604.5 445V446M605.5 446V447M606.5 445V446M607.5 445V446M608.5 444V445M609.5 444V445M610.5 444V445M611.5 443V444M612.5 443V444M613.5 443V444M614.5 442V443M615.5 442V443M616.5 442V443M617.5 442V443M618.5 442V443M619.5 441V442M620.5 441V442M621.5 441V442M622.5 441V442M623.5 441V442M624.5 441V442M625.5 441V442M626.5 440V441M627.5 440V441M628.5 440V441M629.5 440V441M630.5 440V441M631.5 440V441M632.5 439V440M633.5 439V440M634.5 439V440M635.5 439V440M636.5 439V440M637.5 439V440M638.5 439V440M639.5 440V441M640.5 440V441M641.5 440V441M642.5 440V441M643.5 441V442M644.5 442V443M645.5 442V443M646.5 443V444M647.5 443V444M648.5 444V445M649.5 445V446M650.5 445V446M651.5 446V447M652.5 446V447M653.5 447V448M654.5 447V448M655.5 448V449M656.5 448V449M657.5 449V450M658.5 449V450M659.5 449V450M660.5 450V451M661.5 450V451M662.5 450V451M663.5 450V451M664.5 450V451M665.5 450V451M666.5 450V451M667.5 450V451M668.5 450V451M669.5 450V451M670.5 450V451M671.5 450V451M672.5 450V451M673.5 450V451M674.5 449V450M675.5 449V450M676.5 449V450M677.5 449V450M678.5 449V450M679.5 449V450M680.5 448V449M681.5 448V449M682.5 448V449M683.5 448V449M684.5 448V449M685.5 448V449M686.5 448V449M687.5 448V449M688.5 448V449M689.5 448V449M690.5 448V449M691.5 448V449M692.5 448V449M693.5 448V449M694.5 449V450M695.5 449V450M696.5 449V450M697.5 449V450M698.5 449V450M699.5 449V450M700.5 449V450M701.5 449V450M702.5 450V451M703.5 450V451M704.5 450V451M705.5 450V451M706.5 450V451M707.5 450V451M708.5 450V451M709.5 451V452M710.5 451V452M711.5 451V452M712.5 451V452M713.5 451V452M714.5 451V452M715.5 452V453M716.5 452V453M717.5 452V453M718.5 452V453M719.5 452V453M720.5 452V453M721.5 452V453M722.5 452V453M723.5 452V453M724.5 452V453M725.5 452V453M726.5 452V453M727.5 452V453M728.5 452V453M729.5 452V453M730.5 452V453M731.5 451V452M732.5 451V452M733.5 450V451M734.5 450V451M735.5 449V450M736.5 448V449M737.5 447V448M738.5 446V447M739.5 445V446M740.5 444V445M741.5 443V444M742.5 442V443M743.5 441V442M744.5 440V441M745.5 439V440M746.5 439V440M747.5 438V439M748.5 438V439M749.5 438V439M750.5 437V438M751.5 437V438M752.5 437V438M753.5 438V439M754.5 438V439M755.5 438V439M756.5 438V439M757.5 438V439M758.5 439V440M759.5 438V439M760.5 438V439M761.5 438V439M762.5 438V439M763.5 438V439M764.5 437V438M765.5 437V438M766.5 437V438M767.5 436V437M768.5 436V437M769.5 435V436M770.5 435V436M771.5 434V435M772.5 434V435M773.5 433V434M774.5 432V433M775.5 432V433M776.5 431V432M777.5 430V431M778.5 430V431M779.5 430V431M780.5 429V430M781.5 429V430M782.5 429V430M783.5 429V430M784.5 429V430M785.5 428V429M786.5 428V429M787.5 428V429M788.5 428V429M789.5 428V429M790.5 428V429M791.5 428V429M792.5 428V429M793.5 427V428M794.5 427V428M795.5 427V428M796.5 426V427M797.5 426V427M798.5 425V426M799.5 424V425M800.5 423V424M801.5 423V424M802.5 422V423M803.5 422V423M804.5 421V422M805.5 421V422M806.5 421V422M807.5 420V421M808.5 420V421M809.5 420V421M810.5 420V421M811.5 420V421M812.5 421V422M813.5 422V423M814.5 423V424M815.5 424V425M816.5 424V426M817.5 426V428M818.5 428V429M819.5 429V431M820.5 431V433M821.5 433V435M822.5 435V437M823.5 437V439M824.5 439V442M825.5 442V444M826.5 444V446M827.5 446V448M828.5 448V450M829.5 450V452M830.5 452V454M831.5 454V456M832.5 456V457M833.5 457V459M834.5 459V460M835.5 460V462M836.5 462V463M837.5 463V464M838.5 463V464M839.5 463V464M840.5 464V465M841.5 464V465M842.5 465V466M843.5 465V466M844.5 464V465M845.5 464V465M846.5 464V465M847.5 463V464M848.5 463V464M849.5 462V463M850.5 461V462M851.5 460V461M852.5 460V461M853.5 459V460M854.5 458V459M855.5 457V458M856.5 456V457M857.5 456V457M858.5 455V456M859.5 453V455M860.5 452V453M861.5 452V453M862.5 451V452M863.5 450V451M864.5 449V450M865.5 448V449M866.5 447V448M867.5 446V447M868.5 446V447M869.5 445V446M870.5 444V445M871.5 443V444M872.5 443V444M873.5 442V443M874.5 441V442M875.5 441V442M876.5 440V441M877.5 440V441M878.5 440V441M879.5 440V441M880.5 439V440M881.5 439V440M882.5 439V440M883.5 439V440M884.5 439V440M885.5 439V440M886.5 439V440M887.5 439V440M888.5 439V440M889.5 439V440M890.5 439V440M891.5 439V440M892.5 440V441M893.5 440V441M894.5 440V441M895.5 440V441M896.5 440V441M897.5 440V441M898.5 440V441M899.5 440V441M900.5 441V442M901.5 441V442M902.5 442V443M903.5 442V443M904.5 443V444M905.5 443V444M906.5 443V444M907.5 444V445M908.5 444V445M909.5 444V445M910.5 445V446M911.5 445V446M912.5 445V446M913.5 445V446M914.5 445V446M915.5 445V446M916.5 445V446M917.5 445V446M918.5 445V446M919.5 445V446M920.5 444V445M921.5 443V444M922.5 442V443M923.5 442V443M924.5 441V442M925.5 440V441M926.5 440V441M927.5 439V440" stroke="#ff0000" stroke-width="1"/>
<path d="M4.5 145V173M10.5 156V193M20.5 148V171M22.5 119V161M24.5 114V132M26.5 117V135M46.5 204V250M48.5 199V220M50.5 198V219M52.5 199V218M56.5 192V223M62.5 207V220M64.5 194V213M66.5 177V212M82.5 209V265M86.5 212V223M88.5 199V218M90.5 188V218M104.5 247V278M116.5 281V300M126.5 278V315M128.5 254V300M130.5 249V280M132.5 256V273M134.5 253V265M136.5 252V263M138.5 221V260M142.5 240V267M150.5 248V285M162.5 259V294M174.5 345V370M176.5 310V366M180.5 294V308M182.5 292V306M194.5 382V392M196.5 364V388M198.5 336V381M200.5 329V352M202.5 313V337M210.5 319V341M218.5 341V362M230.5 339V350M232.5 331V351M234.5 331V351M242.5 344V355M244.5 328V352M246.5 319V340M248.5 305V335M258.5 331V356M266.5 357V375M268.5 352V366M270.5 326V355M272.5 320V356M274.5 290V352M276.5 270V316M278.5 269V280M280.5 267V279M282.5 255V279M284.5 236V264M290.5 228V248M292.5 217V240M296.5 209V243M306.5 249V265M310.5 223V240M312.5 194V238M314.5 180V198M320.5 144V192M322.5 137V184M324.5 117V158M328.5 94V132M338.5 142V160M350.5 172V189M352.5 163V188M354.5 159V186M366.5 125V149M370.5 110V173M372.5 89V134M374.5 88V133M380.5 92V129M384.5 85V106M386.5 85V104M388.5 75V91M392.5 47V85M394.5 40V75M404.5 76V98M406.5 57V83M422.5 187V225M424.5 175V202M426.5 163V198M442.5 180V307M446.5 258V278M448.5 231V267M452.5 237V288M456.5 245V271M458.5 242V265M462.5 229V262M466.5 255V281M468.5 238V265M474.5 231V252M478.5 239V293M482.5 268V289M484.5 246V273M486.5 227V250M488.5 219V246M490.5 177V237M492.5 168V195M498.5 188V210M500.5 187V217M502.5 161V196M510.5 201V218M512.5 188V220M518.5 245V263M520.5 234V253M522.5 236V252M524.5 214V252M526.5 177V227M534.5 188V214M536.5 188V208M544.5 228V240M546.5 223V234M548.5 183V234M554.5 213V230M556.5 209V224M562.5 205V265M564.5 199V222M568.5 201V212M570.5 193V212M574.5 167V204M584.5 185V229M592.5 256V267M594.5 257V278M596.5 255V286M598.5 223V276M600.5 198V231M604.5 199V213M606.5 199V216M620.5 220V261M622.5 189V237M628.5 204V217M630.5 190V206M642.5 253V268M644.5 229V264M656.5 272V297M658.5 260V292M662.5 266V285M664.5 257V269M668.5 253V278M674.5 280V293M676.5 277V293M682.5 264V304M688.5 281V292M690.5 278V290M692.5 251V288M696.5 305V339M700.5 308V328M702.5 285V311M708.5 310V333M710.5 317V338M712.5 322V335M714.5 317V332M720.5 348V367M722.5 345V373M724.5 315V355M730.5 252V352M736.5 265V287M744.5 289V332M756.5 273V317M760.5 272V292M762.5 254V292M766.5 252V293M768.5 224V268M776.5 225V253M782.5 258V269M784.5 247V271M786.5 240V254M788.5 225V260M790.5 170V235M792.5 160V197M800.5 168V202M810.5 197V216M818.5 321V337M820.5 316V332M828.5 360V377M830.5 357V370M834.5 362V384M836.5 353V383M838.5 344V375M840.5 324V356M842.5 316V340M848.5 316V350M856.5 293V338M862.5 290V319M864.5 278V298M866.5 280V294M872.5 298V315M874.5 289V321M884.5 302V328M888.5 283V325M900.5 343V366M902.5 343V362M904.5 324V346M910.5 307V359M916.5 305V329M918.5 289V316M920.5 248V302M928.5 278V280" stroke="#ff0000" stroke-width="1"/>
<path d="M6.5 147V181M8.5 153V182M12.5 157V172M14.5 155V166M16.5 156V164M18.5 153V185M28.5 120V148M30.5 131V149M32.5 137V168M34.5 132V187M36.5 176V210M38.5 199V212M40.5 200V213M42.5 209V251M44.5 239V260M54.5 197V223M58.5 174V224M60.5 199V220M68.5 163V210M70.5 194V218M72.5 209V225M74.5 204V225M76.5 214V237M78.5 233V258M80.5 242V273M84.5 213V228M92.5 190V222M94.5 201V259M96.5 240V270M100.5 245V273M102.5 244V273M106.5 267V289M108.5 264V287M110.5 271V283M112.5 271V282M114.5 274V291M118.5 281V314M120.5 283V303M122.5 290V304M124.5 284V314M140.5 221V262M144.5 244V259M146.5 252V263M148.5 253V269M152.5 262V298M154.5 267V293M156.5 272V290M158.5 266V293M160.5 268V295M164.5 259V355M166.5 340V357M168.5 346V360M170.5 346V367M172.5 348V374M178.5 282V314M184.5 287V301M186.5 293V342M188.5 292V350M190.5 353V371M192.5 354V387M204.5 313V330M206.5 314V328M208.5 313V332M212.5 323V370M214.5 328V352M216.5 325V371M220.5 331V362M222.5 326V346M224.5 321V345M226.5 320V352M228.5 333V351M236.5 285V342M238.5 283V335M240.5 333V361M250.5 304V335M252.5 326V341M254.5 326V344M256.5 326V350M260.5 314V351M262.5 309V345M264.5 325V372M286.5 222V253M288.5 228V253M294.5 220V240M298.5 205V246M300.5 230V251M302.5 235V263M304.5 237V270M308.5 235V263M316.5 181V209M318.5 187V208M326.5 116V138M330.5 100V124M332.5 104V131M334.5 106V138M336.5 127V159M340.5 143V167M342.5 140V167M344.5 146V169M346.5 154V174M348.5 168V192M356.5 146V193M358.5 142V189M360.5 136V182M362.5 136V160M364.5 128V150M368.5 131V155M378.5 92V131M382.5 76V111M390.5 78V97M396.5 49V83M398.5 77V92M400.5 78V90M402.5 82V101M408.5 55V71M410.5 56V77M412.5 62V94M414.5 75V143M416.5 134V197M418.5 171V231M420.5 201V236M428.5 166V213M430.5 174V207M432.5 187V205M434.5 194V222M436.5 210V230M438.5 219V251M440.5 239V289M444.5 171V271M450.5 241V267M454.5 231V292M460.5 242V269M464.5 226V271M470.5 251V257M472.5 245V257M476.5 231V268M480.5 249V296M494.5 177V197M496.5 182V205M504.5 167V194M506.5 192V202M508.5 197V211M514.5 189V229M516.5 221V256M528.5 173V207M530.5 197V214M532.5 201V214M538.5 187V237M540.5 229V256M542.5 235V252M550.5 199V235M552.5 215V247M558.5 207V223M560.5 207V268M566.5 198V212M572.5 192V211M576.5 137V190M578.5 175V206M580.5 187V207M582.5 183V220M586.5 185V256M588.5 227V262M590.5 255V267M602.5 198V216M608.5 190V224M610.5 202V263M612.5 223V257M614.5 224V255M616.5 226V240M618.5 231V248M624.5 186V207M626.5 204V220M632.5 188V227M634.5 213V244M636.5 240V259M638.5 253V266M640.5 258V267M646.5 236V278M648.5 250V285M650.5 270V286M652.5 272V287M654.5 276V296M660.5 256V295M666.5 255V269M670.5 253V288M672.5 276V287M678.5 273V288M680.5 272V304M684.5 271V301M686.5 282V294M694.5 264V344M698.5 316V329M704.5 277V316M706.5 290V337M716.5 316V352M718.5 322V374M726.5 316V334M728.5 320V358M732.5 257V280M734.5 267V278M738.5 262V283M740.5 261V288M742.5 265V332M746.5 292V310M748.5 292V311M750.5 294V315M752.5 294V327M754.5 291V321M758.5 275V294M764.5 253V287M770.5 223V241M772.5 230V242M774.5 231V245M778.5 213V257M780.5 245V274M794.5 161V173M796.5 164V178M798.5 171V191M802.5 157V195M804.5 188V213M806.5 204V218M808.5 206V216M812.5 199V226M814.5 210V318M816.5 302V340M822.5 316V348M824.5 317V356M826.5 345V387M832.5 355V377M844.5 303V323M846.5 314V333M850.5 306V334M852.5 320V334M854.5 321V342M858.5 301V324M860.5 308V323M868.5 280V297M870.5 291V308M876.5 297V314M878.5 303V315M880.5 304V324M882.5 303V325M886.5 299V326M890.5 276V309M892.5 287V318M894.5 303V323M896.5 314V356M898.5 334V367M906.5 322V343M908.5 332V366M912.5 303V346M914.5 321V338M922.5 251V284M924.5 254V275M926.5 265V290" stroke="#32cd32" stroke-width="1"/>
<path d="M98.5 262V273M376.5 87V108" stroke="#000" stroke-width="1"/>
<path d="M4.5 152V153M5.5 153V154M6.5 154V155M7.5 154V155M8.5 155V156M9.5 156V157M10.5 157V158M11.5 157V158M12.5 158V159M13.5 158V159M14.5 158V159M15.5 158V159M16.5 158V159M17.5 158V159M18.5 158V159M19.5 157V158M20.5 157V158M21.5 156V157M22.5 156V157M23.5 155V156M24.5 154V155M25.5 153V154M26.5 152V153M27.5 151V152M28.5 151V152M29.5 151V152M30.5 151V152M31.5 151V152M32.5 151V152M33.5 152V153M34.5 153V155M35.5 155V156M36.5 156V157M37.5 157V159M38.5 159V160M39.5 160V162M40.5 162V164M41.5 164V165M42.5 165V167M43.5 167V169M44.5 169V170M45.5 170V172M46.5 172V173M47.5 173V174M48.5 174V175M49.5 175V176M50.5 175V176M51.5 176V177M52.5 177V178M53.5 178V180M54.5 180V181M55.5 181V182M56.5 182V183M57.5 183V185M58.5 185V186M59.5 186V187M60.5 187V188M61.5 188V190M62.5 190V191M63.5 191V192M64.5 192V194M65.5 194V195M66.5 195V197M67.5 197V199M68.5 199V201M69.5 201V203M70.5 203V204M71.5 204V206M72.5 206V207M73.5 207V208M74.5 208V209M75.5 209V211M76.5 211V212M77.5 212V213M78.5 213V214M79.5 214V215M80.5 215V216M81.5 216V217M82.5 215V216M83.5 215V216M84.5 215V216M85.5 215V216M86.5 214V215M87.5 214V215M88.5 214V215M89.5 213V214M90.5 213V214M91.5 212V213M92.5 213V214M93.5 214V215M94.5 214V215M95.5 215V217M96.5 217V218M97.5 218V220M98.5 220V221M99.5 221V223M100.5 223V224M101.5 224V226M102.5 226V227M103.5 227V228M104.5 228V230M105.5 230V232M106.5 232V234M107.5 234V235M108.5 235V237M109.5 237V239M110.5 239V241M111.5 241V243M112.5 243V245M113.5 245V246M114.5 246V248M115.5 248V249M116.5 249V250M117.5 250V252M118.5 252V253M119.5 253V254M120.5 254V256M121.5 256V257M122.5 257V259M123.5 259V260M124.5 260V262M125.5 262V264M126.5 264V265M127.5 265V267M128.5 267V268M129.5 268V269M130.5 269V270M131.5 270V272M132.5 272V273M133.5 273V274M134.5 274V275M135.5 274V275M136.5 274V275M137.5 273V274M138.5 273V274M139.5 273V274M140.5 272V273M141.5 272V273M142.5 272V273M143.5 272V273M144.5 272V273M145.5 271V272M146.5 271V272M147.5 271V272M148.5 271V272M149.5 271V272M150.5 270V271M151.5 270V271M152.5 270V271M153.5 270V271M154.5 270V271M155.5 269V270M156.5 269V270M157.5 269V270M158.5 268V269M159.5 268V269M160.5 267V268M161.5 267V268M162.5 266V267M163.5 266V267M164.5 266V267M165.5 267V268M166.5 268V269M167.5 268V269M168.5 269V271M169.5 271V274M170.5 274V276M171.5 276V278M172.5 278V281M173.5 281V283M174.5 283V285M175.5 285V286M176.5 286V288M177.5 288V290M178.5 290V291M179.5 291V293M180.5 293V295M181.5 295V296M182.5 296V298M183.5 298V299M184.5 299V301M185.5 301V303M186.5 303V304M187.5 304V306M188.5 306V309M189.5 309V311M190.5 311V314M191.5 314V316M192.5 316V319M193.5 319V322M194.5 322V324M195.5 324V326M196.5 326V328M197.5 328V331M198.5 331V333M199.5 333V334M200.5 334V335M201.5 335V337M202.5 337V338M203.5 338V339M204.5 339V340M205.5 339V340M206.5 339V340M207.5 339V340M208.5 339V340M209.5 339V340M210.5 338V339M211.5 338V339M212.5 338V339M213.5 338V339M214.5 338V339M215.5 338V339M216.5 338V339M217.5 338V339M218.5 339V340M219.5 340V341M220.5 341V342M221.5 341V342M222.5 342V343M223.5 343V344M224.5 344V345M225.5 345V346M226.5 345V346M227.5 346V347M228.5 346V347M229.5 346V347M230.5 346V347M231.5 345V346M232.5 345V346M233.5 344V345M234.5 343V344M235.5 341V343M236.5 340V341M237.5 339V340M238.5 338V339M239.5 337V338M240.5 337V338M241.5 337V338M242.5 337V338M243.5 337V338M244.5 337V338M245.5 337V338M246.5 337V338M247.5 337V338M248.5 337V338M249.5 337V338M250.5 337V338M251.5 336V337M252.5 336V337M253.5 336V337M254.5 336V337M255.5 335V336M256.5 335V336M257.5 335V336M258.5 334V335M259.5 334V335M260.5 333V334M261.5 333V334M262.5 333V334M263.5 334V335M264.5 334V335M265.5 335V336M266.5 335V336M267.5 336V337M268.5 336V337M269.5 336V337M270.5 335V336M271.5 335V336M272.5 335V336M273.5 335V336M274.5 334V335M275.5 333V334M276.5 333V334M277.5 332V333M278.5 330V332M279.5 329V330M280.5 328V329M281.5 326V328M282.5 325V326M283.5 323V325M284.5 321V323M285.5 319V321M286.5 317V319M287.5 315V317M288.5 313V315M289.5 310V313M290.5 308V310M291.5 305V308M292.5 303V305M293.5 300V303M294.5 297V300M295.5 295V297M296.5 292V295M297.5 289V292M298.5 286V289M299.5 281V286M300.5 279V281M301.5 277V279M302.5 274V277M303.5 272V274M304.5 270V272M305.5 268V270M306.5 265V268M307.5 263V265M308.5 260V263M309.5 258V260M310.5 255V258M311.5 252V255M312.5 249V252M313.5 247V249M314.5 244V247M315.5 241V244M316.5 239V241M317.5 237V239M318.5 234V237M319.5 231V234M320.5 228V231M321.5 225V228M322.5 222V225M323.5 218V222M324.5 215V218M325.5 212V215M326.5 209V212M327.5 206V209M328.5 203V206M329.5 200V203M330.5 198V200M331.5 195V198M332.5 193V195M333.5 190V193M334.5 188V190M335.5 186V188M336.5 184V186M337.5 183V184M338.5 181V183M339.5 179V181M340.5 177V179M341.5 175V177M342.5 173V175M343.5 172V173M344.5 171V172M345.5 169V171M346.5 168V169M347.5 166V168M348.5 165V166M349.5 163V165M350.5 162V163M351.5 161V162M352.5 160V161M353.5 159V160M354.5 157V159M355.5 156V157M356.5 155V156M357.5 154V155M358.5 154V155M359.5 153V154M360.5 153V154M361.5 153V154M362.5 152V153M363.5 152V153M364.5 151V152M365.5 152V153M366.5 152V153M367.5 152V153M368.5 152V153M369.5 152V153M370.5 152V153M371.5 152V153M372.5 152V153M373.5 152V153M374.5 152V153M375.5 151V152M376.5 150V151M377.5 149V150M378.5 148V149M379.5 147V148M380.5 146V147M381.5 144V146M382.5 143V144M383.5 141V143M384.5 139V141M385.5 136V139M386.5 133V136M387.5 131V133M388.5 128V131M389.5 125V128M390.5 122V125M391.5 119V122M392.5 117V119M393.5 115V117M394.5 112V115M395.5 110V112M396.5 108V110M397.5 107V108M398.5 105V107M399.5 104V105M400.5 102V104M401.5 101V102M402.5 99V101M403.5 97V99M404.5 95V97M405.5 94V95M406.5 92V94M407.5 91V92M408.5 89V91M409.5 87V89M410.5 86V87M411.5 85V86M412.5 84V85M413.5 85V87M414.5 87V89M415.5 89V91M416.5 91V93M417.5 93V96M418.5 96V99M419.5 99V101M420.5 101V103M421.5 103V105M422.5 105V108M423.5 108V110M424.5 110V112M425.5 112V114M426.5 114V116M427.5 116V118M428.5 118V120M429.5 120V123M430.5 123V126M431.5 126V128M432.5 128V132M433.5 132V136M434.5 136V140M435.5 140V144M436.5 144V148M437.5 148V152M438.5 152V156M439.5 156V159M440.5 159V163M441.5 163V166M442.5 166V169M443.5 169V177M444.5 177V180M445.5 180V183M446.5 183V186M447.5 186V189M448.5 189V194M449.5 194V199M450.5 199V204M451.5 204V208M452.5 208V211M453.5 211V215M454.5 215V219M455.5 219V221M456.5 221V223M457.5 223V224M458.5 224V225M459.5 225V227M460.5 227V228M461.5 228V229M462.5 229V231M463.5 231V233M464.5 233V234M465.5 234V236M466.5 236V237M467.5 237V238M468.5 238V240M469.5 240V241M470.5 241V242M471.5 242V243M472.5 243V244M473.5 244V245M474.5 245V246M475.5 246V247M476.5 247V248M477.5 248V249M478.5 249V250M479.5 250V251M480.5 250V251M481.5 251V252M482.5 252V253M483.5 252V253M484.5 253V254M485.5 252V253M486.5 251V252M487.5 251V252M488.5 250V251M489.5 249V250M490.5 247V249M491.5 246V247M492.5 245V246M493.5 243V245M494.5 242V243M495.5 241V242M496.5 239V241M497.5 238V239M498.5 237V238M499.5 235V237M500.5 234V235M501.5 233V234M502.5 231V233M503.5 230V231M504.5 229V230M505.5 227V229M506.5 226V227M507.5 225V226M508.5 223V225M509.5 222V223M510.5 221V222M511.5 220V221M512.5 219V220M513.5 218V219M514.5 218V219M515.5 217V218M516.5 217V218M517.5 216V217M518.5 216V217M519.5 215V216M520.5 214V215M521.5 213V214M522.5 212V213M523.5 211V212M524.5 210V211M525.5 209V210M526.5 209V210M527.5 208V209M528.5 207V208M529.5 207V208M530.5 207V208M531.5 207V208M532.5 208V209M533.5 208V209M534.5 208V209M535.5 209V210M536.5 210V211M537.5 210V211M538.5 211V212M539.5 212V213M540.5 213V214M541.5 214V215M542.5 215V216M543.5 216V217M544.5 216V217M545.5 217V218M546.5 217V218M547.5 218V219M548.5 219V220M549.5 219V220M550.5 219V220M551.5 219V220M552.5 219V220M553.5 219V220M554.5 220V221M555.5 220V221M556.5 220V221M557.5 220V221M558.5 219V220M559.5 219V220M560.5 219V220M561.5 218V219M562.5 218V219M563.5 217V218M564.5 217V218M565.5 216V217M566.5 215V216M567.5 214V215M568.5 214V215M569.5 214V215M570.5 214V215M571.5 214V215M572.5 214V215M573.5 214V215M574.5 214V215M575.5 213V214M576.5 213V214M577.5 212V213M578.5 212V213M579.5 211V212M580.5 211V212M581.5 210V211M582.5 209V210M583.5 209V210M584.5 208V209M585.5 207V208M586.5 207V208M587.5 208V209M588.5 209V211M589.5 211V212M590.5 212V213M591.5 213V214M592.5 214V215M593.5 215V216M594.5 216V217M595.5 217V218M596.5 218V219M597.5 218V219M598.5 218V219M599.5 217V218M600.5 217V218M601.5 217V218M602.5 217V218M603.5 217V218M604.5 217V218M605.5 217V218M606.5 216V217M607.5 217V218M608.5 217V218M609.5 218V219M610.5 219V220M611.5 219V220M612.5 220V221M613.5 220V222M614.5 222V223M615.5 223V224M616.5 224V226M617.5 226V227M618.5 227V228M619.5 227V228M620.5 227V228M621.5 227V228M622.5 227V228M623.5 227V228M624.5 227V228M625.5 228V229M626.5 229V230M627.5 229V230M628.5 228V229M629.5 226V228M630.5 225V226M631.5 224V225M632.5 222V224M633.5 221V222M634.5 221V222M635.5 221V222M636.5 221V222M637.5 221V222M638.5 221V222M639.5 221V223M640.5 223V224M641.5 224V225M642.5 225V226M643.5 226V227M644.5 227V228M645.5 228V229M646.5 229V231M647.5 231V232M648.5 232V234M649.5 234V235M650.5 235V236M651.5 236V238M652.5 238V239M653.5 239V240M654.5 240V241M655.5 241V242M656.5 242V243M657.5 243V244M658.5 244V245M659.5 245V246M660.5 245V246M661.5 246V247M662.5 247V248M663.5 248V250M664.5 250V251M665.5 251V253M666.5 253V254M667.5 254V256M668.5 256V258M669.5 258V259M670.5 259V261M671.5 261V262M672.5 262V264M673.5 264V265M674.5 265V266M675.5 266V267M676.5 267V268M677.5 268V269M678.5 269V270M679.5 270V271M680.5 271V272M681.5 272V273M682.5 273V274M683.5 274V275M684.5 275V276M685.5 276V277M686.5 277V278M687.5 277V278M688.5 278V279M689.5 278V279M690.5 279V280M691.5 279V280M692.5 280V281M693.5 280V281M694.5 281V282M695.5 282V283M696.5 283V284M697.5 284V285M698.5 284V285M699.5 285V286M700.5 286V287M701.5 287V288M702.5 288V289M703.5 289V290M704.5 290V291M705.5 291V292M706.5 292V294M707.5 294V295M708.5 295V296M709.5 296V297M710.5 297V299M711.5 299V300M712.5 300V301M713.5 301V302M714.5 302V303M715.5 303V304M716.5 304V305M717.5 305V306M718.5 306V308M719.5 308V309M720.5 309V311M721.5 311V312M722.5 312V314M723.5 314V315M724.5 315V316M725.5 316V318M726.5 318V319M727.5 319V320M728.5 320V322M729.5 322V323M730.5 322V323M731.5 322V323M732.5 322V323M733.5 321V322M734.5 321V322M735.5 320V321M736.5 318V320M737.5 317V318M738.5 316V317M739.5 314V316M740.5 313V314M741.5 312V313M742.5 312V313M743.5 312V313M744.5 313V314M745.5 313V314M746.5 313V314M747.5 312V313M748.5 312V313M749.5 311V312M750.5 310V311M751.5 310V311M752.5 309V310M753.5 309V310M754.5 309V310M755.5 308V309M756.5 308V309M757.5 306V308M758.5 305V306M759.5 303V305M760.5 302V303M761.5 300V302M762.5 298V300M763.5 297V298M764.5 295V297M765.5 293V295M766.5 291V293M767.5 289V291M768.5 286V289M769.5 284V286M770.5 282V284M771.5 280V282M772.5 278V280M773.5 277V278M774.5 277V278M775.5 276V277M776.5 275V276M777.5 275V276M778.5 274V275M779.5 274V275M780.5 274V275M781.5 274V275M782.5 274V275M783.5 273V275M784.5 271V273M785.5 270V271M786.5 268V270M787.5 266V268M788.5 264V266M789.5 262V264M790.5 260V262M791.5 257V260M792.5 252V257M793.5 247V252M794.5 243V247M795.5 239V243M796.5 236V239M797.5 234V236M798.5 231V234M799.5 229V231M800.5 227V229M801.5 225V227M802.5 223V225M803.5 222V223M804.5 220V222M805.5 219V220M806.5 218V219M807.5 217V218M808.5 216V217M809.5 216V217M810.5 215V216M811.5 215V216M812.5 215V216M813.5 216V217M814.5 217V218M815.5 218V221M816.5 221V223M817.5 223V225M818.5 225V227M819.5 227V229M820.5 229V231M821.5 231V233M822.5 233V234M823.5 234V236M824.5 236V238M825.5 238V240M826.5 240V243M827.5 243V246M828.5 246V249M829.5 249V252M830.5 252V256M831.5 256V261M832.5 261V265M833.5 265V270M834.5 270V274M835.5 274V279M836.5 279V284M837.5 284V289M838.5 289V292M839.5 292V296M840.5 296V300M841.5 300V304M842.5 304V309M843.5 309V312M844.5 312V314M845.5 314V317M846.5 317V320M847.5 320V322M848.5 322V325M849.5 325V328M850.5 328V330M851.5 330V333M852.5 333V335M853.5 335V337M854.5 337V338M855.5 338V339M856.5 339V340M857.5 339V340M858.5 338V339M859.5 338V339M860.5 338V339M861.5 338V339M862.5 337V338M863.5 336V337M864.5 335V336M865.5 333V335M866.5 331V333M867.5 330V331M868.5 328V330M869.5 326V328M870.5 324V326M871.5 323V324M872.5 321V323M873.5 319V321M874.5 318V319M875.5 316V318M876.5 315V316M877.5 314V315M878.5 314V315M879.5 313V314M880.5 312V313M881.5 311V312M882.5 311V312M883.5 310V311M884.5 309V310M885.5 309V310M886.5 308V309M887.5 308V309M888.5 307V308M889.5 307V308M890.5 306V307M891.5 306V307M892.5 305V306M893.5 305V306M894.5 304V305M895.5 305V306M896.5 305V306M897.5 306V307M898.5 307V308M899.5 308V309M900.5 309V310M901.5 310V311M902.5 311V312M903.5 312V313M904.5 313V314M905.5 314V315M906.5 314V315M907.5 315V316M908.5 316V317M909.5 317V318M910.5 318V319M911.5 318V319M912.5 319V320M913.5 319V320M914.5 320V321M915.5 320V321M916.5 320V321M917.5 321V322M918.5 320V321M919.5 319V320M920.5 318V319M921.5 317V318M922.5 316V317M923.5 315V316M924.5 314V315M925.5 313V314M926.5 312V313M927.5 311V312" stroke="#0000cd" stroke-width="1"/>
<path d="M4.5 155V156M5.5 155V156M6.5 156V157M7.5 156V157M8.5 156V157M9.5 157V158M10.5 157V158M11.5 157V158M12.5 157V158M13.5 158V159M14.5 158V159M15.5 158V159M16.5 158V159M17.5 158V159M18.5 158V159M19.5 158V159M20.5 158V159M21.5 157V158M22.5 157V158M23.5 156V157M24.5 155V156M25.5 154V155M26.5 153V154M27.5 152V153M28.5 152V153M29.5 151V152M30.5 150V151M31.5 151V152M32.5 151V152M33.5 152V153M34.5 152V153M35.5 153V155M36.5 155V156M37.5 156V158M38.5 158V160M39.5 160V162M40.5 162V163M41.5 163V166M42.5 166V168M43.5 168V170M44.5 170V172M45.5 172V174M46.5 174V176M47.5 176V178M48.5 178V180M49.5 180V183M50.5 183V186M51.5 186V189M52.5 189V192M53.5 192V195M54.5 195V199M55.5 199V203M56.5 203V205M57.5 205V207M58.5 207V208M59.5 208V210M60.5 210V211M61.5 211V212M62.5 211V212M63.5 212V213M64.5 212V213M65.5 211V212M66.5 211V212M67.5 210V211M68.5 210V211M69.5 209V210M70.5 208V209M71.5 208V209M72.5 207V208M73.5 206V207M74.5 207V208M75.5 208V209M76.5 209V211M77.5 211V212M78.5 212V213M79.5 213V215M80.5 215V216M81.5 216V217M82.5 216V217M83.5 216V217M84.5 216V217M85.5 216V217M86.5 216V217M87.5 215V216M88.5 215V216M89.5 215V216M90.5 215V216M91.5 215V216M92.5 215V216M93.5 216V218M94.5 218V219M95.5 219V221M96.5 221V224M97.5 224V227M98.5 227V229M99.5 229V231M100.5 231V233M101.5 233V234M102.5 234V236M103.5 236V237M104.5 237V238M105.5 238V240M106.5 240V241M107.5 240V242M108.5 242V243M109.5 242V244M110.5 244V245M111.5 245V247M112.5 247V250M113.5 250V254M114.5 254V257M115.5 257V260M116.5 260V264M117.5 264V267M118.5 267V271M119.5 271V273M120.5 273V276M121.5 276V278M122.5 278V281M123.5 281V282M124.5 281V282M125.5 282V283M126.5 283V284M127.5 284V285M128.5 283V284M129.5 283V284M130.5 283V284M131.5 282V283M132.5 282V283M133.5 280V282M134.5 279V280M135.5 278V279M136.5 276V278M137.5 275V276M138.5 274V275M139.5 273V274M140.5 271V273M141.5 270V271M142.5 269V270M143.5 268V269M144.5 267V268M145.5 265V267M146.5 264V265M147.5 263V264M148.5 262V263M149.5 261V262M150.5 260V261M151.5 260V261M152.5 259V260M153.5 258V259M154.5 258V259M155.5 257V258M156.5 257V258M157.5 258V259M158.5 258V259M159.5 259V260M160.5 259V260M161.5 260V261M162.5 261V262M163.5 262V263M164.5 263V264M165.5 264V266M166.5 266V270M167.5 270V273M168.5 273V277M169.5 277V281M170.5 281V285M171.5 285V289M172.5 289V293M173.5 293V297M174.5 297V301M175.5 301V304M176.5 304V307M177.5 307V309M178.5 309V311M179.5 311V313M180.5 313V314M181.5 314V315M182.5 314V315M183.5 315V316M184.5 316V317M185.5 317V319M186.5 319V322M187.5 322V324M188.5 324V327M189.5 327V329M190.5 329V331M191.5 331V333M192.5 333V335M193.5 335V337M194.5 337V338M195.5 338V339M196.5 339V340M197.5 340V341M198.5 341V342M199.5 341V342M200.5 341V342M201.5 340V341M202.5 339V340M203.5 337V339M204.5 336V337M205.5 335V336M206.5 336V337M207.5 337V338M208.5 338V339M209.5 338V339M210.5 339V340M211.5 340V341M212.5 341V343M213.5 343V344M214.5 344V346M215.5 346V347M216.5 347V348M217.5 347V348M218.5 346V347M219.5 345V346M220.5 344V345M221.5 343V344M222.5 342V343M223.5 341V342M224.5 341V342M225.5 340V341M226.5 339V340M227.5 339V340M228.5 340V341M229.5 341V342M230.5 342V343M231.5 341V342M232.5 341V342M233.5 341V342M234.5 341V342M235.5 341V342M236.5 341V342M237.5 340V341M238.5 340V341M239.5 339V340M240.5 339V340M241.5 338V339M242.5 337V338M243.5 336V337M244.5 335V336M245.5 334V335M246.5 334V335M247.5 333V334M248.5 333V334M249.5 333V334M250.5 332V333M251.5 332V333M252.5 332V333M253.5 332V333M254.5 332V333M255.5 332V333M256.5 333V334M257.5 333V334M258.5 332V333M259.5 332V333M260.5 331V332M261.5 330V331M262.5 331V332M263.5 332V334M264.5 334V335M265.5 335V336M266.5 336V337M267.5 336V337M268.5 337V338M269.5 338V339M270.5 338V339M271.5 338V339M272.5 337V338M273.5 337V338M274.5 335V337M275.5 333V335M276.5 331V333M277.5 329V331M278.5 326V329M279.5 323V326M280.5 319V323M281.5 316V319M282.5 312V316M283.5 308V312M284.5 304V308M285.5 300V304M286.5 296V300M287.5 292V296M288.5 287V292M289.5 284V287M290.5 280V284M291.5 276V280M292.5 272V276M293.5 269V272M294.5 265V269M295.5 262V265M296.5 258V262M297.5 255V258M298.5 251V255M299.5 246V251M300.5 245V246M301.5 244V245M302.5 243V244M303.5 242V243M304.5 242V243M305.5 241V242M306.5 240V241M307.5 239V240M308.5 239V240M309.5 238V239M310.5 237V238M311.5 236V237M312.5 236V237M313.5 234V236M314.5 233V234M315.5 232V233M316.5 231V232M317.5 229V231M318.5 227V229M319.5 225V227M320.5 223V225M321.5 221V223M322.5 218V221M323.5 215V218M324.5 212V215M325.5 209V212M326.5 203V209M327.5 197V203M328.5 191V197M329.5 186V191M330.5 181V186M331.5 174V181M332.5 170V174M333.5 166V170M334.5 162V166M335.5 158V162M336.5 154V158M337.5 152V154M338.5 150V152M339.5 148V150M340.5 146V148M341.5 145V146M342.5 144V145M343.5 144V145M344.5 143V144M345.5 143V144M346.5 144V145M347.5 144V145M348.5 145V146M349.5 146V148M350.5 148V150M351.5 150V152M352.5 152V154M353.5 154V155M354.5 155V157M355.5 157V159M356.5 159V160M357.5 160V162M358.5 162V163M359.5 163V164M360.5 164V165M361.5 164V165M362.5 164V165M363.5 164V165M364.5 164V165M365.5 164V165M366.5 163V164M367.5 163V164M368.5 163V164M369.5 161V163M370.5 157V161M371.5 153V157M372.5 150V153M373.5 147V150M374.5 143V147M375.5 140V143M376.5 138V140M377.5 135V138M378.5 132V135M379.5 129V132M380.5 126V129M381.5 123V126M382.5 120V123M383.5 117V120M384.5 115V117M385.5 112V115M386.5 109V112M387.5 107V109M388.5 104V107M389.5 102V104M390.5 99V102M391.5 97V99M392.5 94V97M393.5 93V94M394.5 92V93M395.5 91V92M396.5 89V91M397.5 88V89M398.5 88V89M399.5 88V89M400.5 87V88M401.5 86V87M402.5 86V87M403.5 84V86M404.5 83V84M405.5 82V83M406.5 80V82M407.5 79V80M408.5 77V79M409.5 76V77M410.5 75V76M411.5 75V76M412.5 75V77M413.5 77V79M414.5 79V82M415.5 82V86M416.5 86V90M417.5 90V95M418.5 95V100M419.5 100V105M420.5 105V110M421.5 110V115M422.5 115V120M423.5 120V124M424.5 124V128M425.5 128V131M426.5 131V134M427.5 134V137M428.5 137V141M429.5 141V144M430.5 144V148M431.5 148V152M432.5 152V157M433.5 157V162M434.5 162V169M435.5 169V175M436.5 175V180M437.5 180V185M438.5 185V190M439.5 190V195M440.5 195V200M441.5 200V204M442.5 204V209M443.5 209V211M444.5 211V213M445.5 213V214M446.5 214V216M447.5 216V218M448.5 218V221M449.5 221V223M450.5 223V226M451.5 226V229M452.5 229V231M453.5 231V233M454.5 233V236M455.5 236V237M456.5 237V239M457.5 239V240M458.5 240V242M459.5 242V243M460.5 243V245M461.5 245V246M462.5 246V247M463.5 247V248M464.5 248V249M465.5 249V250M466.5 249V250M467.5 250V251M468.5 250V251M469.5 251V252M470.5 251V252M471.5 251V252M472.5 251V252M473.5 250V251M474.5 250V251M475.5 249V250M476.5 249V250M477.5 249V250M478.5 250V251M479.5 250V251M480.5 250V251M481.5 251V252M482.5 252V253M483.5 252V253M484.5 253V254M485.5 252V254M486.5 250V252M487.5 249V250M488.5 246V249M489.5 244V246M490.5 242V244M491.5 240V242M492.5 237V240M493.5 235V237M494.5 233V235M495.5 231V233M496.5 229V231M497.5 227V229M498.5 225V227M499.5 223V225M500.5 221V223M501.5 218V221M502.5 216V218M503.5 214V216M504.5 212V214M505.5 210V212M506.5 208V210M507.5 206V208M508.5 204V206M509.5 202V204M510.5 201V202M511.5 200V201M512.5 199V200M513.5 198V199M514.5 198V199M515.5 198V199M516.5 199V200M517.5 200V201M518.5 201V204M519.5 204V206M520.5 206V208M521.5 208V210M522.5 210V211M523.5 211V212M524.5 212V213M525.5 213V214M526.5 214V215M527.5 215V216M528.5 215V216M529.5 215V216M530.5 216V217M531.5 216V217M532.5 217V218M533.5 217V218M534.5 217V218M535.5 217V218M536.5 218V219M537.5 218V219M538.5 218V220M539.5 220V221M540.5 221V222M541.5 222V223M542.5 221V222M543.5 220V221M544.5 220V221M545.5 219V220M546.5 218V219M547.5 217V218M548.5 216V217M549.5 215V216M550.5 214V215M551.5 215V216M552.5 215V216M553.5 216V217M554.5 216V217M555.5 217V218M556.5 218V219M557.5 218V219M558.5 219V220M559.5 220V221M560.5 221V222M561.5 221V222M562.5 221V222M563.5 221V222M564.5 222V223M565.5 222V223M566.5 220V222M567.5 219V220M568.5 218V219M569.5 217V218M570.5 215V217M571.5 214V215M572.5 213V214M573.5 211V213M574.5 210V211M575.5 209V210M576.5 208V209M577.5 208V209M578.5 207V208M579.5 206V207M580.5 206V207M581.5 205V206M582.5 204V205M583.5 203V204M584.5 203V204M585.5 202V203M586.5 203V205M587.5 205V206M588.5 206V208M589.5 208V209M590.5 209V211M591.5 211V213M592.5 213V215M593.5 215V216M594.5 216V218M595.5 218V219M596.5 219V221M597.5 221V222M598.5 222V224M599.5 224V226M600.5 226V227M601.5 226V227M602.5 226V227M603.5 227V228M604.5 227V228M605.5 227V228M606.5 228V229M607.5 228V229M608.5 229V230M609.5 230V231M610.5 231V232M611.5 231V232M612.5 232V233M613.5 233V234M614.5 233V234M615.5 232V233M616.5 232V233M617.5 231V232M618.5 229V231M619.5 228V229M620.5 226V228M621.5 224V226M622.5 222V224M623.5 221V222M624.5 219V221M625.5 218V219M626.5 218V219M627.5 217V218M628.5 217V218M629.5 217V218M630.5 217V218M631.5 217V218M632.5 217V218M633.5 218V219M634.5 218V219M635.5 219V221M636.5 221V222M637.5 222V223M638.5 223V225M639.5 225V226M640.5 225V226M641.5 226V227M642.5 227V228M643.5 228V229M644.5 228V229M645.5 229V231M646.5 231V232M647.5 232V234M648.5 234V236M649.5 236V238M650.5 238V240M651.5 240V243M652.5 243V246M653.5 246V249M654.5 249V252M655.5 252V254M656.5 254V256M657.5 256V258M658.5 258V261M659.5 261V264M660.5 264V266M661.5 266V267M662.5 266V267M663.5 267V268M664.5 267V268M665.5 267V268M666.5 267V268M667.5 268V269M668.5 268V269M669.5 268V269M670.5 268V269M671.5 269V271M672.5 271V273M673.5 273V274M674.5 274V275M675.5 274V275M676.5 274V275M677.5 275V276M678.5 275V276M679.5 275V276M680.5 275V276M681.5 275V276M682.5 276V277M683.5 276V277M684.5 276V277M685.5 276V277M686.5 277V278M687.5 277V278M688.5 278V279M689.5 279V280M690.5 279V280M691.5 280V282M692.5 282V283M693.5 283V285M694.5 285V286M695.5 286V288M696.5 288V289M697.5 289V291M698.5 291V293M699.5 293V294M700.5 294V295M701.5 295V296M702.5 296V297M703.5 296V297M704.5 297V298M705.5 298V299M706.5 299V300M707.5 300V301M708.5 301V303M709.5 303V304M710.5 304V305M711.5 305V307M712.5 307V308M713.5 308V310M714.5 310V312M715.5 312V315M716.5 315V317M717.5 317V320M718.5 320V323M719.5 323V326M720.5 326V327M721.5 326V327M722.5 327V328M723.5 328V329M724.5 329V330M725.5 329V330M726.5 329V330M727.5 330V331M728.5 330V331M729.5 330V331M730.5 329V331M731.5 328V329M732.5 326V328M733.5 324V326M734.5 322V324M735.5 320V322M736.5 318V320M737.5 316V318M738.5 315V316M739.5 313V315M740.5 312V313M741.5 310V312M742.5 309V310M743.5 308V309M744.5 306V308M745.5 304V306M746.5 302V304M747.5 300V302M748.5 299V300M749.5 298V299M750.5 297V298M751.5 296V297M752.5 295V296M753.5 294V295M754.5 293V294M755.5 292V293M756.5 291V292M757.5 291V292M758.5 291V292M759.5 291V292M760.5 291V292M761.5 291V292M762.5 291V292M763.5 291V292M764.5 291V292M765.5 291V292M766.5 290V292M767.5 287V290M768.5 285V287M769.5 282V285M770.5 280V282M771.5 277V280M772.5 275V277M773.5 273V275M774.5 271V273M775.5 269V271M776.5 267V269M777.5 265V267M778.5 263V265M779.5 262V263M780.5 260V262M781.5 258V260M782.5 257V258M783.5 256V257M784.5 254V256M785.5 253V254M786.5 252V253M787.5 249V252M788.5 247V249M789.5 244V247M790.5 241V244M791.5 238V241M792.5 235V238M793.5 231V235M794.5 227V231M795.5 225V227M796.5 223V225M797.5 221V223M798.5 219V221M799.5 217V219M800.5 215V217M801.5 214V215M802.5 213V214M803.5 212V213M804.5 211V212M805.5 210V211M806.5 209V210M807.5 207V209M808.5 206V207M809.5 202V206M810.5 199V202M811.5 198V199M812.5 197V198M813.5 197V199M814.5 199V202M815.5 202V207M816.5 207V212M817.5 212V217M818.5 217V221M819.5 221V226M820.5 226V233M821.5 233V240M822.5 240V246M823.5 246V253M824.5 253V259M825.5 259V267M826.5 267V275M827.5 275V282M828.5 282V288M829.5 288V294M830.5 294V299M831.5 299V305M832.5 305V311M833.5 311V312M834.5 312V314M835.5 314V320M836.5 320V326M837.5 326V332M838.5 332V340M839.5 340V346M840.5 346V347M841.5 346V347M842.5 347V348M843.5 348V349M844.5 348V349M845.5 348V349M846.5 348V349M847.5 348V349M848.5 348V349M849.5 347V348M850.5 346V347M851.5 345V346M852.5 343V345M853.5 341V343M854.5 339V341M855.5 337V339M856.5 335V337M857.5 333V335M858.5 331V333M859.5 329V331M860.5 327V329M861.5 324V327M862.5 322V324M863.5 320V322M864.5 318V320M865.5 316V318M866.5 315V316M867.5 313V315M868.5 312V313M869.5 312V313M870.5 311V312M871.5 310V311M872.5 309V310M873.5 308V309M874.5 307V308M875.5 306V307M876.5 306V307M877.5 305V306M878.5 304V305M879.5 304V305M880.5 304V305M881.5 303V304M882.5 303V304M883.5 303V304M884.5 303V304M885.5 303V304M886.5 302V303M887.5 302V303M888.5 302V303M889.5 302V303M890.5 302V303M891.5 303V304M892.5 304V305M893.5 305V306M894.5 306V308M895.5 308V310M896.5 310V311M897.5 311V313M898.5 313V314M899.5 314V316M900.5 316V317M901.5 317V318M902.5 318V319M903.5 319V320M904.5 320V321M905.5 321V322M906.5 322V323M907.5 323V324M908.5 324V325M909.5 324V325M910.5 324V325M911.5 324V325M912.5 324V325M913.5 324V325M914.5 325V326M915.5 326V327M916.5 327V328M917.5 328V329M918.5 327V328M919.5 325V327M920.5 323V325M921.5 321V323M922.5 318V321M923.5 316V318M924.5 314V316M925.5 312V314M926.5 310V312M927.5 308V310M928.5 306V308" stroke="#ff0000" stroke-width="1"/>
<rect x="4" y="127" width="1163" height="2" fill="#ff0000"/>
<rect x="4" y="201" width="1163" height="2" fill="#ff0000"/>
<rect x="4" y="275" width="1163" height="2" fill="#00ff00"/>
<rect x="4" y="348" width="1163" height="2" fill="#0000ff"/>
</g>
<rect x="1168" y="273" width="38" height="11" fill="#000"/><text class="s w" x="1172" y="282" textLength="33" lengthAdjust="spacingAndGlyphs">0.91781</text>
<rect x="1168" y="122" width="38" height="11" fill="#ff0000"/><text class="s w" x="1172" y="131" textLength="33" lengthAdjust="spacingAndGlyphs">0.93006</text>
<rect x="1168" y="196" width="38" height="11" fill="#ff0000"/><text class="s w" x="1172" y="205" textLength="33" lengthAdjust="spacingAndGlyphs">0.92403</text>
<rect x="1168" y="270" width="38" height="11" fill="#00ff00"/><text class="s w" x="1172" y="279" textLength="33" lengthAdjust="spacingAndGlyphs">0.91800</text>
<rect x="1168" y="343" width="38" height="11" fill="#0000ff"/><text class="s w" x="1172" y="352" textLength="33" lengthAdjust="spacingAndGlyphs">0.91206</text>
<path d="M7 32h7l-3.5-4z" fill="#000"/>
<text class="s" x="19.5" y="33" textLength="57.5" lengthAdjust="spacingAndGlyphs">USDCHF-,H4</text>
<text class="s" x="83.2" y="33" textLength="33" lengthAdjust="spacingAndGlyphs">0.91780</text>
<text class="s" x="119" y="33" textLength="33" lengthAdjust="spacingAndGlyphs">0.91786</text>
<text class="s" x="154.8" y="33" textLength="33" lengthAdjust="spacingAndGlyphs">0.91780</text>
<text class="s" x="190.6" y="33" textLength="33" lengthAdjust="spacingAndGlyphs">0.91781</text>
<text class="s" x="8" y="415.2" textLength="147.5" lengthAdjust="spacingAndGlyphs">MACD(12,26,9) 0.000890 0.000237</text>
<text class="s" x="8" y="486.2" textLength="67.5" lengthAdjust="spacingAndGlyphs">RSI(14) 57.4441</text>
<g shape-rendering="crispEdges">
<rect x="7" y="41" width="52" height="30" fill="url(#gb)"/>
<rect x="174" y="41" width="52" height="30" fill="url(#gb)"/>
<rect x="7" y="65" width="109" height="33" fill="url(#gb)"/>
<rect x="118" y="65" width="108" height="33" fill="url(#gb)"/>
<rect x="59" y="41" width="115" height="24" fill="#fff"/>
<rect x="116" y="65" width="2" height="33" fill="#fff"/>
<path d="M7.5 41.5H58.5V65.5H115.5V97.5H7.5z" fill="none" stroke="#0000b4" stroke-width="1"/>
<path d="M225.5 41.5H174.5V65.5H118.5V97.5H225.5z" fill="none" stroke="#0000b4" stroke-width="1"/>
<rect x="11" y="64" width="44" height="1" fill="#000080"/><rect x="178" y="64" width="44" height="1" fill="#000080"/>
<rect x="11" y="65" width="44" height="1" fill="#7878ff"/><rect x="178" y="65" width="44" height="1" fill="#7878ff"/>
<rect x="61" y="41" width="111" height="22" fill="#a8a8a8"/><rect x="62" y="42" width="109" height="20" fill="#fff"/>
<rect x="62" y="42" width="20" height="20" fill="url(#gg)" stroke="none"/><rect x="82" y="42" width="1" height="20" fill="#b4b4b4"/>
<rect x="151" y="42" width="20" height="20" fill="url(#gg)"/><rect x="150" y="42" width="1" height="20" fill="#b4b4b4"/>
</g>
<g shape-rendering="crispEdges"><rect x="69" y="50" width="5" height="1" fill="#7b8bd0"/><rect x="70" y="51" width="3" height="1" fill="#4656b0"/><rect x="71" y="52" width="1" height="1" fill="#4656b0"/>
<rect x="160" y="50" width="1" height="1" fill="#4656b0"/><rect x="159" y="51" width="3" height="1" fill="#4656b0"/><rect x="158" y="52" width="5" height="1" fill="#7b8bd0"/>
<path d="M62.5 42.5h19v19h-19z M151.5 42.5h19v19h-19z" fill="none" stroke="#f6f6f6" stroke-width="1"/></g>
<text x="123.4" y="56" font-size="12" fill="#000" textLength="23.1" lengthAdjust="spacingAndGlyphs">3.00</text>
<text x="19.5" y="56.6" font-size="11.6" class="w" textLength="25.5" lengthAdjust="spacingAndGlyphs">SELL</text>
<text x="187.7" y="56.6" font-size="11.6" class="w" textLength="23.3" lengthAdjust="spacingAndGlyphs">BUY</text>
<text x="27" y="92.8" font-size="11.2" font-weight="bold" class="w" textLength="24" lengthAdjust="spacingAndGlyphs">0.91</text>
<text x="137" y="92.8" font-size="11.2" font-weight="bold" class="w" textLength="24" lengthAdjust="spacingAndGlyphs">0.91</text>
<text x="53.6" y="93.3" font-size="34.6" class="w" stroke="url(#gb)" stroke-width="0.55" textLength="37" lengthAdjust="spacingAndGlyphs">78</text>
<text x="165.2" y="93.3" font-size="34.6" class="w" stroke="url(#gb)" stroke-width="0.55" textLength="37" lengthAdjust="spacingAndGlyphs">80</text>
<text x="94" y="77" font-size="12" font-weight="bold" class="w">1</text>
<text x="205" y="77" font-size="12" font-weight="bold" class="w">7</text>
</svg></body></html>
